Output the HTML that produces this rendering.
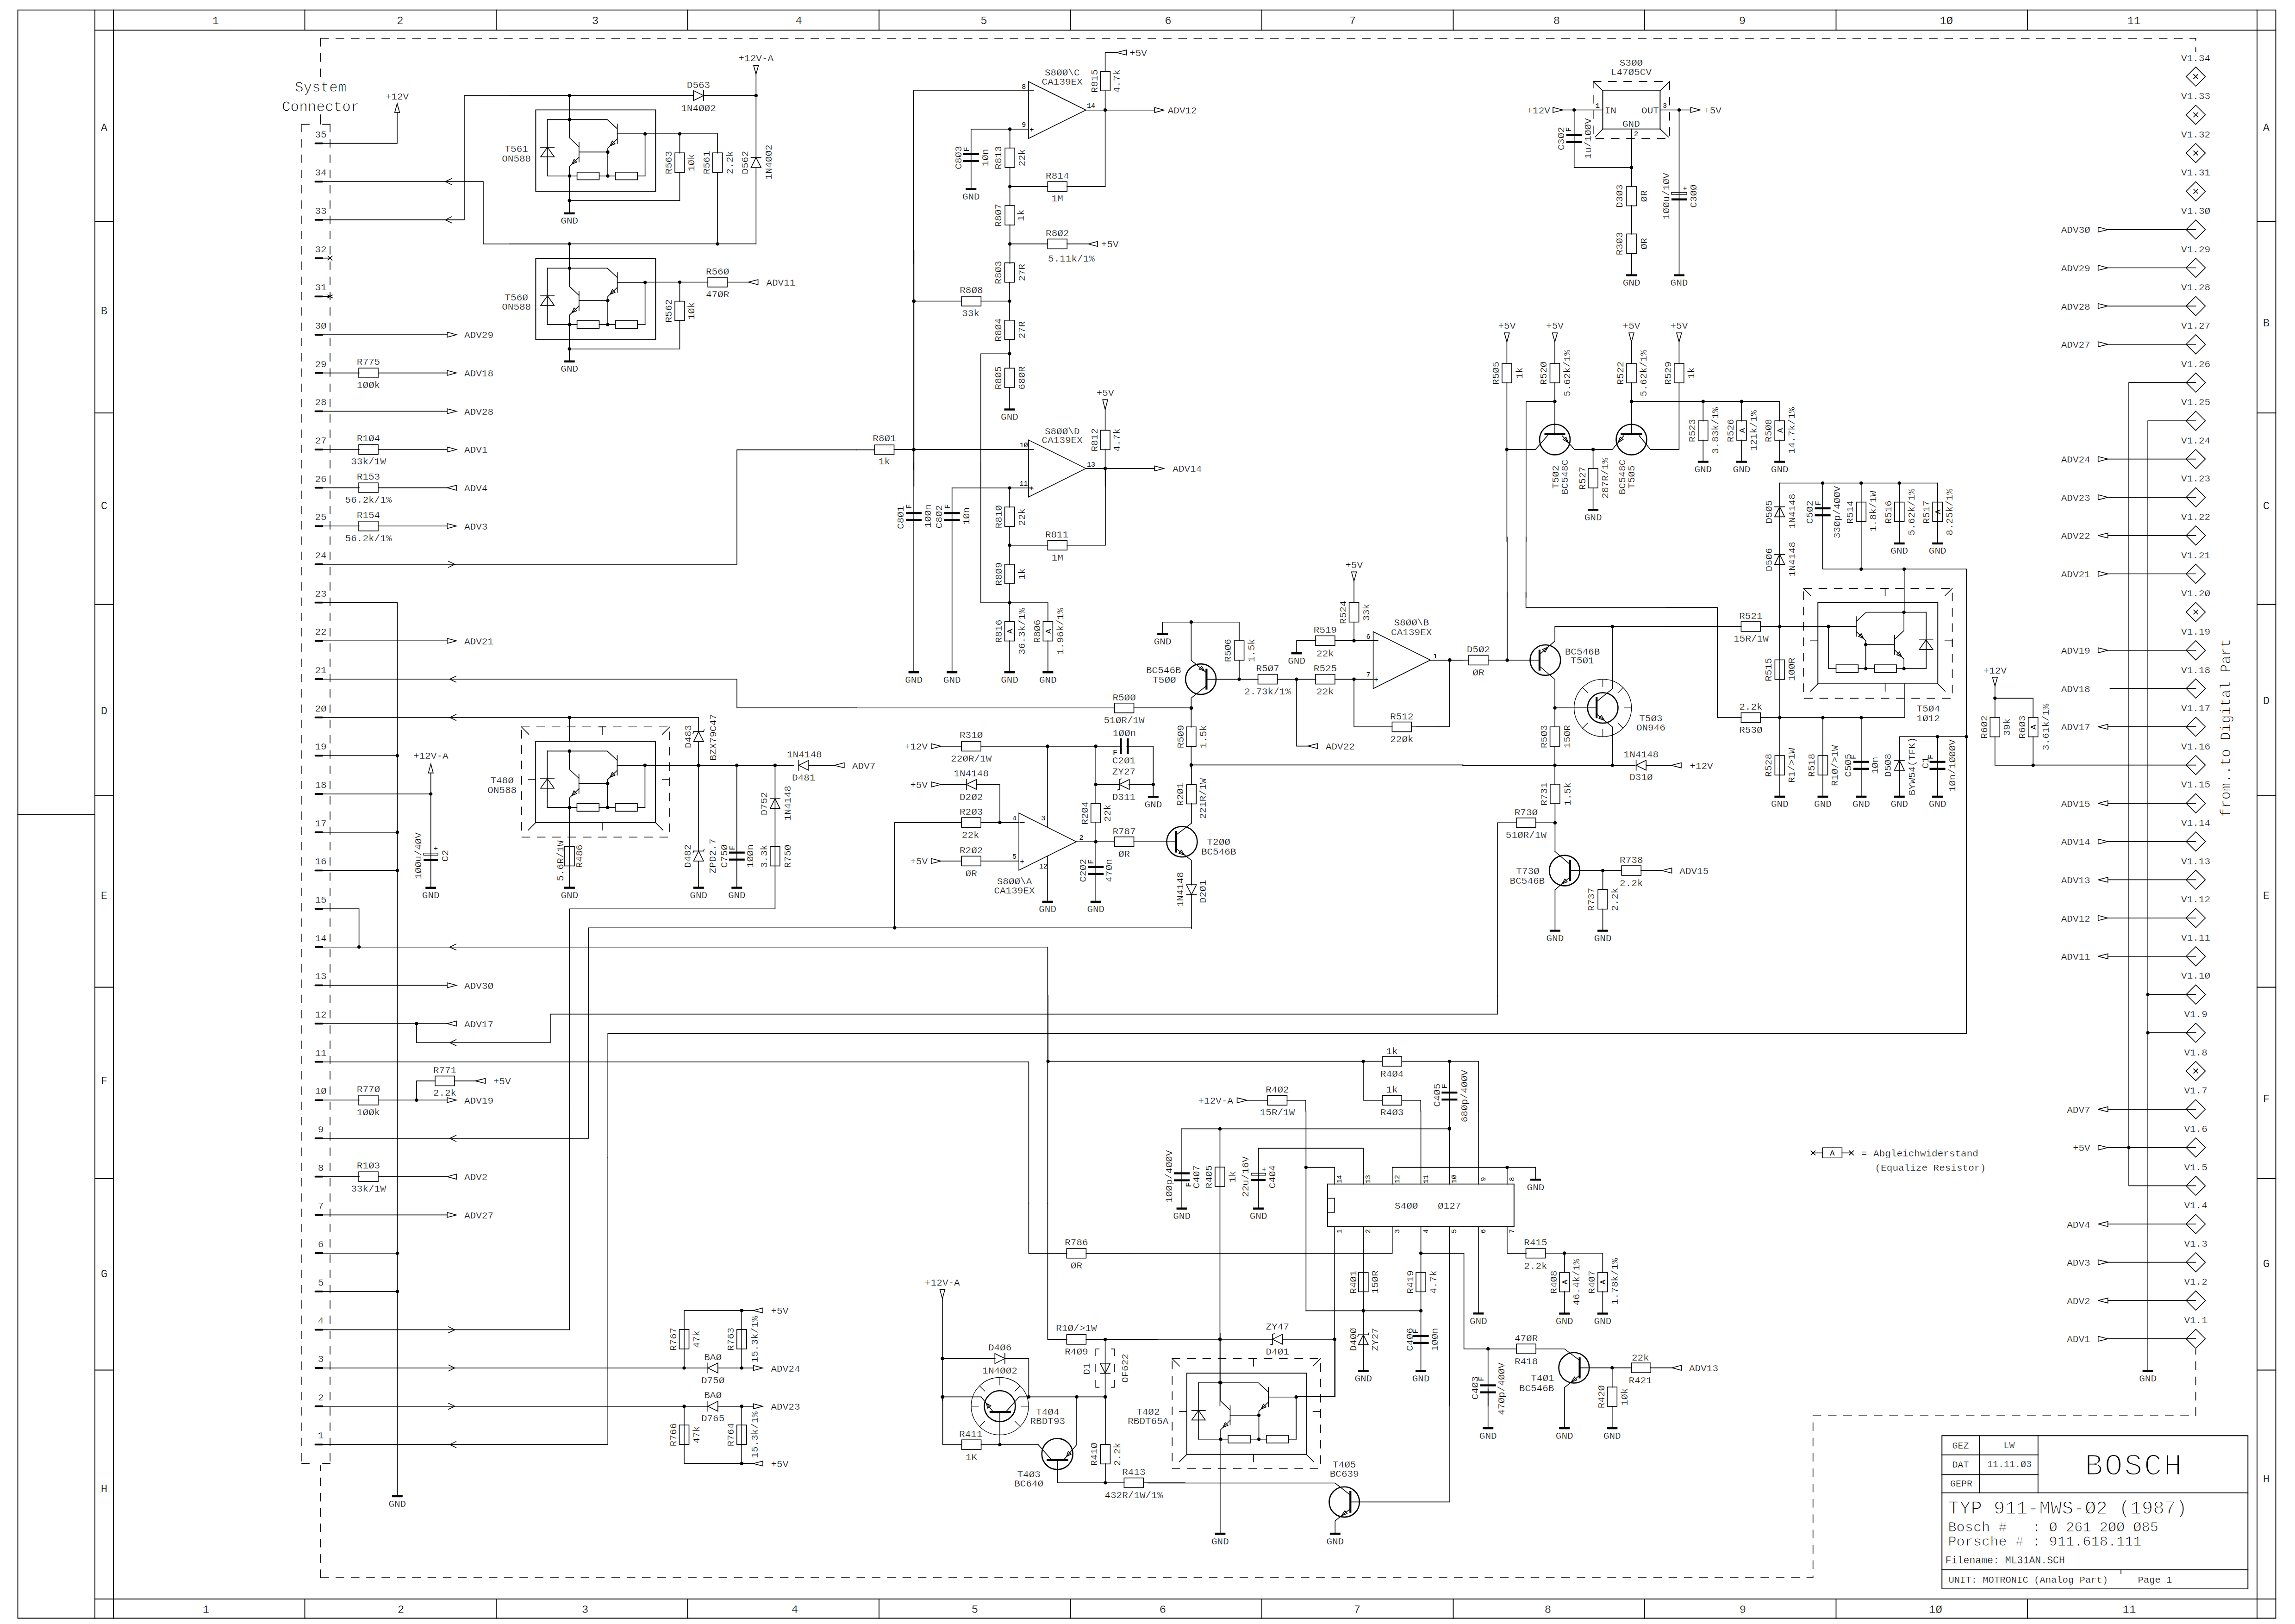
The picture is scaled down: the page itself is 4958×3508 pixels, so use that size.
<!DOCTYPE html>
<html><head><meta charset="utf-8"><style>
html,body{margin:0;padding:0;background:#fff;}
svg{display:block;}
text{fill:#000;stroke:#fff;stroke-width:0.4px;font-size:21px;font-family:"Liberation Mono",monospace;}
</style></head><body>
<svg width="4958" height="3508" viewBox="0 0 4958 3508">
<rect width="4958" height="3508" fill="#fff"/>
<g fill="none" stroke="#000" stroke-width="1.6" stroke-linecap="square" stroke-linejoin="miter">
<path d="M38.5 21.6 L4916.5 21.6 L4916.5 3495.5 L38.5 3495.5 L38.5 21.6" stroke-width="1.8"/>
<path d="M205 21.6 L205 3495.5" stroke-width="1.8"/>
<path d="M245 21.6 L245 3495.5" stroke-width="1.8"/>
<path d="M4876 21.6 L4876 3495.5" stroke-width="1.8"/>
<path d="M205 65 L4916.5 65" stroke-width="1.8"/>
<path d="M205 3454 L4916.5 3454" stroke-width="1.8"/>
<path d="M38.5 1760 L205 1760" stroke-width="1.8"/>
<path d="M658.5 21.6 L658.5 65" stroke-width="1.8"/>
<path d="M658.5 3454 L658.5 3495.5" stroke-width="1.8"/>
<path d="M1072 21.6 L1072 65" stroke-width="1.8"/>
<path d="M1072 3454 L1072 3495.5" stroke-width="1.8"/>
<path d="M1485.5 21.6 L1485.5 65" stroke-width="1.8"/>
<path d="M1485.5 3454 L1485.5 3495.5" stroke-width="1.8"/>
<path d="M1899 21.6 L1899 65" stroke-width="1.8"/>
<path d="M1899 3454 L1899 3495.5" stroke-width="1.8"/>
<path d="M2312.5 21.6 L2312.5 65" stroke-width="1.8"/>
<path d="M2312.5 3454 L2312.5 3495.5" stroke-width="1.8"/>
<path d="M2726 21.6 L2726 65" stroke-width="1.8"/>
<path d="M2726 3454 L2726 3495.5" stroke-width="1.8"/>
<path d="M3139.5 21.6 L3139.5 65" stroke-width="1.8"/>
<path d="M3139.5 3454 L3139.5 3495.5" stroke-width="1.8"/>
<path d="M3553 21.6 L3553 65" stroke-width="1.8"/>
<path d="M3553 3454 L3553 3495.5" stroke-width="1.8"/>
<path d="M3966.5 21.6 L3966.5 65" stroke-width="1.8"/>
<path d="M3966.5 3454 L3966.5 3495.5" stroke-width="1.8"/>
<path d="M4380 21.6 L4380 65" stroke-width="1.8"/>
<path d="M4380 3454 L4380 3495.5" stroke-width="1.8"/>
<path d="M205 478.5 L245 478.5" stroke-width="1.8"/>
<path d="M4876 478.5 L4916.5 478.5" stroke-width="1.8"/>
<path d="M205 892 L245 892" stroke-width="1.8"/>
<path d="M4876 892 L4916.5 892" stroke-width="1.8"/>
<path d="M205 1305.5 L245 1305.5" stroke-width="1.8"/>
<path d="M4876 1305.5 L4916.5 1305.5" stroke-width="1.8"/>
<path d="M205 1719 L245 1719" stroke-width="1.8"/>
<path d="M4876 1719 L4916.5 1719" stroke-width="1.8"/>
<path d="M205 2132.5 L245 2132.5" stroke-width="1.8"/>
<path d="M4876 2132.5 L4916.5 2132.5" stroke-width="1.8"/>
<path d="M205 2546 L245 2546" stroke-width="1.8"/>
<path d="M4876 2546 L4916.5 2546" stroke-width="1.8"/>
<path d="M205 2959.5 L245 2959.5" stroke-width="1.8"/>
<path d="M4876 2959.5 L4916.5 2959.5" stroke-width="1.8"/>
<text x="465.7" y="52" text-anchor="middle" style="font-size:24px;">1</text>
<text x="445" y="3483.5" text-anchor="middle" style="font-size:24px;">1</text>
<text x="864.5" y="52" text-anchor="middle" style="font-size:24px;">2</text>
<text x="866" y="3483.5" text-anchor="middle" style="font-size:24px;">2</text>
<text x="1286" y="52" text-anchor="middle" style="font-size:24px;">3</text>
<text x="1264" y="3483.5" text-anchor="middle" style="font-size:24px;">3</text>
<text x="1725.7" y="52" text-anchor="middle" style="font-size:24px;">4</text>
<text x="1717" y="3483.5" text-anchor="middle" style="font-size:24px;">4</text>
<text x="2125.5" y="52" text-anchor="middle" style="font-size:24px;">5</text>
<text x="2106" y="3483.5" text-anchor="middle" style="font-size:24px;">5</text>
<text x="2523.4" y="52" text-anchor="middle" style="font-size:24px;">6</text>
<text x="2512" y="3483.5" text-anchor="middle" style="font-size:24px;">6</text>
<text x="2922" y="52" text-anchor="middle" style="font-size:24px;">7</text>
<text x="2932" y="3483.5" text-anchor="middle" style="font-size:24px;">7</text>
<text x="3363" y="52" text-anchor="middle" style="font-size:24px;">8</text>
<text x="3344" y="3483.5" text-anchor="middle" style="font-size:24px;">8</text>
<text x="3764" y="52" text-anchor="middle" style="font-size:24px;">9</text>
<text x="3765" y="3483.5" text-anchor="middle" style="font-size:24px;">9</text>
<text x="4204.8" y="52" text-anchor="middle" style="font-size:24px;">1Ø</text>
<text x="4181.5" y="3483.5" text-anchor="middle" style="font-size:24px;">1Ø</text>
<text x="4610" y="52" text-anchor="middle" style="font-size:24px;">11</text>
<text x="4600" y="3483.5" text-anchor="middle" style="font-size:24px;">11</text>
<text x="225" y="282.5" text-anchor="middle" style="font-size:24px;">A</text>
<text x="4896" y="282.5" text-anchor="middle" style="font-size:24px;">A</text>
<text x="225" y="678.5" text-anchor="middle" style="font-size:24px;">B</text>
<text x="4896" y="704.5" text-anchor="middle" style="font-size:24px;">B</text>
<text x="225" y="1099.5" text-anchor="middle" style="font-size:24px;">C</text>
<text x="4896" y="1099.5" text-anchor="middle" style="font-size:24px;">C</text>
<text x="225" y="1542.5" text-anchor="middle" style="font-size:24px;">D</text>
<text x="4896" y="1520.5" text-anchor="middle" style="font-size:24px;">D</text>
<text x="225" y="1941.5" text-anchor="middle" style="font-size:24px;">E</text>
<text x="4896" y="1941.5" text-anchor="middle" style="font-size:24px;">E</text>
<text x="225" y="2341.5" text-anchor="middle" style="font-size:24px;">F</text>
<text x="4896" y="2380.5" text-anchor="middle" style="font-size:24px;">F</text>
<text x="225" y="2758.5" text-anchor="middle" style="font-size:24px;">G</text>
<text x="4896" y="2736.5" text-anchor="middle" style="font-size:24px;">G</text>
<text x="225" y="3222.5" text-anchor="middle" style="font-size:24px;">H</text>
<text x="4896" y="3201.5" text-anchor="middle" style="font-size:24px;">H</text>
<path d="M692.7 82.7 L692.7 165.5" stroke-dasharray="16.9 16.2"/>
<path d="M692.7 82.7 L4743.6 82.7 L4743.6 112" stroke-dasharray="16.9 16.2"/>
<path d="M692.7 3408 L692.7 3166" stroke-dasharray="16.9 16.2"/>
<path d="M692.7 3408 L3916.7 3408 L3916.7 3058.2" stroke-dasharray="16.9 16.2"/>
<path d="M692.7 248 L692.7 268"/>
<path d="M652 268.5 L668 268.5"/>
<path d="M697 268.5 L713 268.5"/>
<path d="M652 3161.4 L668 3161.4"/>
<path d="M697 3161.4 L713 3161.4"/>
<path d="M652 268.5 L652 3161.4" stroke-dasharray="16.5 16.5"/>
<path d="M713 268.5 L713 3161.4" stroke-dasharray="16.5 16.5"/>
<text x="692.7" y="198" text-anchor="middle" style="font-size:31px;stroke-width:1;">System</text>
<text x="692.7" y="239.5" text-anchor="middle" style="font-size:31px;stroke-width:1;">Connector</text>
<text x="693" y="296.6" text-anchor="middle">35</text>
<path d="M681.5 309.6 H696.5" stroke-width="3.8" stroke-linecap="round"/>
<text x="693" y="379.2" text-anchor="middle">34</text>
<path d="M681.5 392.3 H696.5" stroke-width="3.8" stroke-linecap="round"/>
<text x="693" y="461.9" text-anchor="middle">33</text>
<path d="M681.5 474.9 H696.5" stroke-width="3.8" stroke-linecap="round"/>
<text x="693" y="544.6" text-anchor="middle">32</text>
<path d="M681.5 557.6 H696.5" stroke-width="3.8" stroke-linecap="round"/>
<text x="693" y="627.2" text-anchor="middle">31</text>
<path d="M681.5 640.3 H696.5" stroke-width="3.8" stroke-linecap="round"/>
<text x="693" y="709.9" text-anchor="middle">3Ø</text>
<path d="M681.5 723 H696.5" stroke-width="3.8" stroke-linecap="round"/>
<text x="693" y="792.6" text-anchor="middle">29</text>
<path d="M681.5 805.6 H696.5" stroke-width="3.8" stroke-linecap="round"/>
<text x="693" y="875.2" text-anchor="middle">28</text>
<path d="M681.5 888.3 H696.5" stroke-width="3.8" stroke-linecap="round"/>
<text x="693" y="957.9" text-anchor="middle">27</text>
<path d="M681.5 971 H696.5" stroke-width="3.8" stroke-linecap="round"/>
<text x="693" y="1040.6" text-anchor="middle">26</text>
<path d="M681.5 1053.6 H696.5" stroke-width="3.8" stroke-linecap="round"/>
<text x="693" y="1123.3" text-anchor="middle">25</text>
<path d="M681.5 1136.3 H696.5" stroke-width="3.8" stroke-linecap="round"/>
<text x="693" y="1205.9" text-anchor="middle">24</text>
<path d="M681.5 1219 H696.5" stroke-width="3.8" stroke-linecap="round"/>
<text x="693" y="1288.6" text-anchor="middle">23</text>
<path d="M681.5 1301.6 H696.5" stroke-width="3.8" stroke-linecap="round"/>
<text x="693" y="1371.3" text-anchor="middle">22</text>
<path d="M681.5 1384.3 H696.5" stroke-width="3.8" stroke-linecap="round"/>
<text x="693" y="1453.9" text-anchor="middle">21</text>
<path d="M681.5 1467 H696.5" stroke-width="3.8" stroke-linecap="round"/>
<text x="693" y="1536.6" text-anchor="middle">2Ø</text>
<path d="M681.5 1549.7 H696.5" stroke-width="3.8" stroke-linecap="round"/>
<text x="693" y="1619.3" text-anchor="middle">19</text>
<path d="M681.5 1632.3 H696.5" stroke-width="3.8" stroke-linecap="round"/>
<text x="693" y="1701.9" text-anchor="middle">18</text>
<path d="M681.5 1715 H696.5" stroke-width="3.8" stroke-linecap="round"/>
<text x="693" y="1784.6" text-anchor="middle">17</text>
<path d="M681.5 1797.7 H696.5" stroke-width="3.8" stroke-linecap="round"/>
<text x="693" y="1867.3" text-anchor="middle">16</text>
<path d="M681.5 1880.3 H696.5" stroke-width="3.8" stroke-linecap="round"/>
<text x="693" y="1950" text-anchor="middle">15</text>
<path d="M681.5 1963 H696.5" stroke-width="3.8" stroke-linecap="round"/>
<text x="693" y="2032.6" text-anchor="middle">14</text>
<path d="M681.5 2045.7 H696.5" stroke-width="3.8" stroke-linecap="round"/>
<text x="693" y="2115.3" text-anchor="middle">13</text>
<path d="M681.5 2128.3 H696.5" stroke-width="3.8" stroke-linecap="round"/>
<text x="693" y="2198" text-anchor="middle">12</text>
<path d="M681.5 2211 H696.5" stroke-width="3.8" stroke-linecap="round"/>
<text x="693" y="2280.6" text-anchor="middle">11</text>
<path d="M681.5 2293.7 H696.5" stroke-width="3.8" stroke-linecap="round"/>
<text x="693" y="2363.3" text-anchor="middle">1Ø</text>
<path d="M681.5 2376.3 H696.5" stroke-width="3.8" stroke-linecap="round"/>
<text x="693" y="2446" text-anchor="middle">9</text>
<path d="M681.5 2459 H696.5" stroke-width="3.8" stroke-linecap="round"/>
<text x="693" y="2528.6" text-anchor="middle">8</text>
<path d="M681.5 2541.7 H696.5" stroke-width="3.8" stroke-linecap="round"/>
<text x="693" y="2611.3" text-anchor="middle">7</text>
<path d="M681.5 2624.4 H696.5" stroke-width="3.8" stroke-linecap="round"/>
<text x="693" y="2694" text-anchor="middle">6</text>
<path d="M681.5 2707 H696.5" stroke-width="3.8" stroke-linecap="round"/>
<text x="693" y="2776.7" text-anchor="middle">5</text>
<path d="M681.5 2789.7 H696.5" stroke-width="3.8" stroke-linecap="round"/>
<text x="693" y="2859.3" text-anchor="middle">4</text>
<path d="M681.5 2872.4 H696.5" stroke-width="3.8" stroke-linecap="round"/>
<text x="693" y="2942" text-anchor="middle">3</text>
<path d="M681.5 2955 H696.5" stroke-width="3.8" stroke-linecap="round"/>
<text x="693" y="3024.7" text-anchor="middle">2</text>
<path d="M681.5 3037.7 H696.5" stroke-width="3.8" stroke-linecap="round"/>
<text x="693" y="3107.3" text-anchor="middle">1</text>
<path d="M681.5 3120.4 H696.5" stroke-width="3.8" stroke-linecap="round"/>
<path d="M698 309.6 L858 309.6 L858 243"/>
<path d="M852.8 243 L858 223.5 L863.2 243Z"/>
<text x="858" y="214.5" text-anchor="middle">+12V</text>
<path d="M698 392.3 L1044 392.3 L1044 527 L1231 527"/>
<path d="M975.5 385.8 L962 392.3 L975.5 398.8"/>
<path d="M698 474.9 L1003 474.9 L1003 206.6 L1231 206.6"/>
<path d="M975.5 468.4 L962 474.9 L975.5 481.4"/>
<path d="M698 557.6 L713 557.6"/>
<path d="M708.5 553.1 L717.5 562.1 M708.5 562.1 L717.5 553.1"/>
<path d="M698 640.3 L713 640.3"/>
<path d="M708 637.3 L718 643.3 M708 643.3 L718 637.3 M713 635.3 L713 645.3"/>
<path d="M698 723 L966 723"/>
<path d="M966 717.6 L986 723 L966 728.4Z"/>
<text x="1003" y="730.4" text-anchor="start">ADV29</text>
<path d="M698 805.6 L776 805.6"/>
<rect x="775" y="795.1" width="42" height="21"/>
<path d="M817 805.6 L966 805.6"/>
<path d="M966 800.2 L986 805.6 L966 811Z"/>
<text x="1003" y="813.1" text-anchor="start">ADV18</text>
<text x="796" y="788.1" text-anchor="middle">R775</text>
<text x="796" y="838.1" text-anchor="middle">1ØØk</text>
<path d="M1157.4 237.4 L1416.4 237.4 L1416.4 413 L1157.4 413 L1157.4 237.4" stroke-width="1.9"/>
<path d="M1182.4 258.4 L1182.4 380.2"/>
<path d="M1182.4 258.4 L1312 258.4 L1333.6 278.4"/>
<path d="M1333.6 268 L1333.6 310.4"/>
<path d="M1333.6 289.1 L1393.6 289.1"/>
<path d="M1333.6 300 L1313 319.8 L1313 380.2"/>
<path d="M1318.2 314.9 L1322.8 304.5 L1328.6 310.6 Z"/>
<path d="M1230.5 258.4 L1230.5 298 L1250.9 317.2"/>
<path d="M1250.9 307.8 L1250.9 349.7"/>
<path d="M1250.9 328.4 L1313 328.4"/>
<path d="M1250.9 339.7 L1230.5 359.5 L1230.5 380.2"/>
<path d="M1235.6 354.6 L1240.2 344.2 L1246.1 350.3 Z"/>
<path d="M1168 318.1 L1197.4 318.1"/>
<path d="M1168 338.8 L1197.4 338.8 L1182.7 318.1Z"/>
<path d="M1182.4 380.2 L1246.6 380.2"/>
<path d="M1294.5 380.2 L1329.3 380.2"/>
<path d="M1377.2 380.2 L1393.6 380.2"/>
<path d="M1246.6 371.9 L1294.5 371.9 L1294.5 388.4 L1246.6 388.4 L1246.6 371.9"/>
<path d="M1329.3 371.9 L1377.2 371.9 L1377.2 388.4 L1329.3 388.4 L1329.3 371.9"/>
<path d="M1393.6 289.1 L1393.6 380.2"/>
<circle cx="1230.5" cy="258.4" r="3.6" fill="#000" stroke="none"/>
<circle cx="1230.5" cy="380.2" r="3.6" fill="#000" stroke="none"/>
<circle cx="1313" cy="328.4" r="3.6" fill="#000" stroke="none"/>
<circle cx="1313" cy="380.2" r="3.6" fill="#000" stroke="none"/>
<circle cx="1393.6" cy="289.1" r="3.6" fill="#000" stroke="none"/>
<path d="M1157.4 558.3 L1416.4 558.3 L1416.4 733.9 L1157.4 733.9 L1157.4 558.3" stroke-width="1.9"/>
<path d="M1182.4 579.3 L1182.4 701.1"/>
<path d="M1182.4 579.3 L1312 579.3 L1333.6 599.3"/>
<path d="M1333.6 588.9 L1333.6 631.3"/>
<path d="M1333.6 610 L1393.6 610"/>
<path d="M1333.6 620.9 L1313 640.7 L1313 701.1"/>
<path d="M1318.2 635.8 L1322.8 625.4 L1328.6 631.5 Z"/>
<path d="M1230.5 579.3 L1230.5 618.9 L1250.9 638.1"/>
<path d="M1250.9 628.7 L1250.9 670.6"/>
<path d="M1250.9 649.3 L1313 649.3"/>
<path d="M1250.9 660.6 L1230.5 680.4 L1230.5 701.1"/>
<path d="M1235.6 675.4 L1240.2 665.1 L1246.1 671.2 Z"/>
<path d="M1168 639 L1197.4 639"/>
<path d="M1168 659.7 L1197.4 659.7 L1182.7 639Z"/>
<path d="M1182.4 701.1 L1246.6 701.1"/>
<path d="M1294.5 701.1 L1329.3 701.1"/>
<path d="M1377.2 701.1 L1393.6 701.1"/>
<path d="M1246.6 692.8 L1294.5 692.8 L1294.5 709.3 L1246.6 709.3 L1246.6 692.8"/>
<path d="M1329.3 692.8 L1377.2 692.8 L1377.2 709.3 L1329.3 709.3 L1329.3 692.8"/>
<path d="M1393.6 610 L1393.6 701.1"/>
<circle cx="1230.5" cy="579.3" r="3.6" fill="#000" stroke="none"/>
<circle cx="1230.5" cy="701.1" r="3.6" fill="#000" stroke="none"/>
<circle cx="1313" cy="649.3" r="3.6" fill="#000" stroke="none"/>
<circle cx="1313" cy="701.1" r="3.6" fill="#000" stroke="none"/>
<circle cx="1393.6" cy="610" r="3.6" fill="#000" stroke="none"/>
<text x="1115.7" y="327.9" text-anchor="middle">T561</text>
<text x="1115.7" y="348.5" text-anchor="middle">ON588</text>
<text x="1115.7" y="648.5" text-anchor="middle">T56Ø</text>
<text x="1115.7" y="669" text-anchor="middle">ON588</text>
<path d="M1100 206.4 L1498.7 206.4"/>
<path d="M1519.8 206.4 L1633.3 206.4"/>
<path d="M1498.2 195.6 L1519.8 206.4 L1498.2 217.2Z"/>
<path d="M1519.8 195.6 L1519.8 217.2"/>
<text x="1509" y="189.5" text-anchor="middle">D563</text>
<text x="1509" y="239.8" text-anchor="middle">1N4ØØ2</text>
<circle cx="1230.2" cy="206.4" r="3.6" fill="#000" stroke="none"/>
<circle cx="1633.3" cy="206.4" r="3.6" fill="#000" stroke="none"/>
<path d="M1230.2 206.4 L1230.2 258.3"/>
<path d="M1633.3 159.9 L1633.3 340.4"/>
<path d="M1633.3 362 L1633.3 526.8"/>
<path d="M1628.1 141.6 L1633.3 160 L1638.5 141.6Z"/>
<text x="1633.3" y="131.7" text-anchor="middle">+12V-A</text>
<path d="M1622.5 362 L1633.3 340.4 L1644.1 362Z"/>
<path d="M1622.5 340.4 L1644.1 340.4"/>
<text x="1609" y="358.6" text-anchor="middle" transform="rotate(-90 1609 351.2)">D562</text>
<text x="1659.2" y="357.6" text-anchor="middle" transform="rotate(-90 1659.2 350.1)">1N4ØØ2</text>
<path d="M1100 526.8 L1633.3 526.8"/>
<circle cx="1230.2" cy="526.8" r="3.6" fill="#000" stroke="none"/>
<circle cx="1550.1" cy="526.8" r="3.6" fill="#000" stroke="none"/>
<path d="M1230.2 526.8 L1230.2 578.1"/>
<path d="M1393.6 289.1 L1550.1 289.1"/>
<circle cx="1468.5" cy="289.1" r="3.6" fill="#000" stroke="none"/>
<path d="M1550.1 289.1 L1550.1 330.7"/>
<rect x="1539.6" y="330.2" width="21" height="42"/>
<path d="M1550.1 371.7 L1550.1 526.8"/>
<text x="1525.8" y="358.6" text-anchor="middle" transform="rotate(-90 1525.8 351.2)">R561</text>
<text x="1575.5" y="358.6" text-anchor="middle" transform="rotate(-90 1575.5 351.2)">2.2k</text>
<path d="M1468.5 289.1 L1468.5 330.7"/>
<rect x="1458" y="330.2" width="21" height="42"/>
<path d="M1468.5 371.7 L1468.5 433.3 L1230.2 433.3"/>
<text x="1443.6" y="358.6" text-anchor="middle" transform="rotate(-90 1443.6 351.2)">R563</text>
<text x="1492.8" y="358.6" text-anchor="middle" transform="rotate(-90 1492.8 351.2)">1Øk</text>
<path d="M1230.2 379.8 L1230.2 460.9"/>
<circle cx="1230.2" cy="433.3" r="3.6" fill="#000" stroke="none"/>
<rect x="1218.7" y="458.7" width="23" height="4.4" fill="#000" stroke="none"/>
<text x="1230.2" y="483.3" text-anchor="middle">GND</text>
<path d="M1393.6 609.5 L1529.5 609.5"/>
<circle cx="1468.5" cy="609.5" r="3.6" fill="#000" stroke="none"/>
<rect x="1529.1" y="599" width="42" height="21"/>
<path d="M1571.1 609.5 L1616 609.5"/>
<path d="M1637.6 604.1 L1616.6 609.5 L1637.6 614.9Z"/>
<text x="1550.1" y="592.6" text-anchor="middle">R56Ø</text>
<text x="1550.1" y="642.3" text-anchor="middle">47ØR</text>
<text x="1655.4" y="616.9" text-anchor="start">ADV11</text>
<path d="M1468.5 609.5 L1468.5 651.1"/>
<rect x="1458" y="650.6" width="21" height="42"/>
<path d="M1468.5 692.1 L1468.5 753.7 L1230.2 753.7"/>
<text x="1443.6" y="679" text-anchor="middle" transform="rotate(-90 1443.6 671.6)">R562</text>
<text x="1492.8" y="679" text-anchor="middle" transform="rotate(-90 1492.8 671.6)">1Øk</text>
<path d="M1230.2 700.2 L1230.2 780.7"/>
<circle cx="1230.2" cy="753.7" r="3.6" fill="#000" stroke="none"/>
<rect x="1218.7" y="778.5" width="23" height="4.4" fill="#000" stroke="none"/>
<text x="1230.2" y="803.2" text-anchor="middle">GND</text>
<path d="M2221.8 176.2 L2345.9 237.7 L2221.8 299.3Z"/>
<path d="M1973.8 196 L2221.8 196"/>
<path d="M2224 196 L2232.8 196"/>
<text x="2211.8" y="191.6" text-anchor="middle" style="font-size:15px;stroke:none;">8</text>
<path d="M2097.8 278.9 L2221.8 278.9"/>
<circle cx="2181.7" cy="278.9" r="3.6" fill="#000" stroke="none"/>
<text x="2228.8" y="284.5" text-anchor="middle" style="font-size:16px;stroke:none;">+</text>
<text x="2211.8" y="274.1" text-anchor="middle" style="font-size:15px;stroke:none;">9</text>
<text x="2356.9" y="233.3" text-anchor="middle" style="font-size:15px;stroke:none;">14</text>
<path d="M2345.9 237.7 L2494.4 237.7"/>
<circle cx="2387.6" cy="237.7" r="3.6" fill="#000" stroke="none"/>
<path d="M2494.4 232.3 L2514.4 237.7 L2494.4 243.1Z"/>
<text x="2522.7" y="245.2" text-anchor="start">ADV12</text>
<rect x="2377.5" y="154.2" width="21" height="42"/>
<path d="M2387.6 196 L2387.6 402.9"/>
<path d="M2387.6 154.8 L2387.6 113.4 L2411.8 113.4"/>
<path d="M2433.2 108 L2412.2 113.4 L2433.2 118.8Z"/>
<text x="2440.1" y="120.8" text-anchor="start">+5V</text>
<text x="2363.2" y="182.7" text-anchor="middle" transform="rotate(-90 2363.2 175.2)">R815</text>
<text x="2411.8" y="182.7" text-anchor="middle" transform="rotate(-90 2411.8 175.2)">4.7k</text>
<path d="M2387.6 402.9 L2305.1 402.9"/>
<rect x="2263.3" y="392.4" width="42" height="21"/>
<path d="M2263.6 402.9 L2181.7 402.9"/>
<circle cx="2181.7" cy="402.9" r="3.6" fill="#000" stroke="none"/>
<text x="2284.3" y="386.2" text-anchor="middle">R814</text>
<text x="2284.3" y="434.8" text-anchor="middle">1M</text>
<text x="2294.7" y="163.2" text-anchor="middle">S8ØØ\C</text>
<text x="2294.7" y="182.7" text-anchor="middle">CA139EX</text>
<path d="M2181.7 278.9 L2181.7 320"/>
<rect x="2171.2" y="319.7" width="21" height="42"/>
<path d="M2181.7 361.4 L2181.7 444"/>
<rect x="2171.2" y="444.1" width="21" height="42"/>
<path d="M2181.7 485.5 L2181.7 569.9"/>
<text x="2155.9" y="348.2" text-anchor="middle" transform="rotate(-90 2155.9 340.7)">R813</text>
<text x="2206.2" y="348.2" text-anchor="middle" transform="rotate(-90 2206.2 340.7)">22k</text>
<text x="2155.9" y="472.5" text-anchor="middle" transform="rotate(-90 2155.9 465.1)">R8Ø7</text>
<text x="2204.6" y="472.5" text-anchor="middle" transform="rotate(-90 2204.6 465.1)">1k</text>
<circle cx="2181.7" cy="526.9" r="3.6" fill="#000" stroke="none"/>
<path d="M2181.7 526.9 L2263.6 526.9"/>
<rect x="2263.3" y="516.4" width="42" height="21"/>
<path d="M2305.1 526.9 L2350.6 526.9"/>
<path d="M2371 521.5 L2351 526.9 L2371 532.3Z"/>
<text x="2378.8" y="534.4" text-anchor="start">+5V</text>
<text x="2284.3" y="510.2" text-anchor="middle">R8Ø2</text>
<text x="2314.5" y="565.1" text-anchor="middle">5.11k/1%</text>
<path d="M2097.8 278.9 L2097.8 408.5"/>
<rect x="2080.8" y="330.7" width="34" height="4.3" fill="#000" stroke="none"/>
<rect x="2080.8" y="345.8" width="34" height="4.3" fill="#000" stroke="none"/>
<rect x="2086.3" y="406.3" width="23" height="4.4" fill="#000" stroke="none"/>
<text x="2097.8" y="431" text-anchor="middle">GND</text>
<text x="2069.6" y="347.9" text-anchor="middle" transform="rotate(-90 2069.6 340.4)">C8Ø3</text>
<text x="2087.5" y="328.2" text-anchor="middle" style="font-size:17px;stroke:none;" transform="rotate(-90 2087.5 322.2)">F</text>
<text x="2127.7" y="347.9" text-anchor="middle" transform="rotate(-90 2127.7 340.4)">1Øn</text>
<path d="M1973.8 196 L1973.8 569.9"/>
<rect x="2170.5" y="567.7" width="21" height="42"/>
<path d="M2181 609.7 L2181 691.7"/>
<circle cx="2181" cy="650.5" r="3.6" fill="#000" stroke="none"/>
<path d="M1974.4 650.5 L2077.4 650.5"/>
<rect x="2077.4" y="640" width="42" height="21"/>
<path d="M2119.2 650.5 L2181 650.5"/>
<circle cx="1974.4" cy="650.5" r="3.6" fill="#000" stroke="none"/>
<text x="2098.4" y="632.9" text-anchor="middle">R8Ø8</text>
<text x="2097.2" y="683.1" text-anchor="middle">33k</text>
<rect x="2170.5" y="691.7" width="21" height="42"/>
<path d="M2181 733.7 L2181 795.3"/>
<circle cx="2181" cy="764.2" r="3.6" fill="#000" stroke="none"/>
<path d="M2181 764.2 L2118.9 764.2 L2118.9 1049.9"/>
<rect x="2170.5" y="795.3" width="21" height="42"/>
<path d="M2181 836.7 L2181 884.5"/>
<rect x="2169.5" y="882.3" width="23" height="4.4" fill="#000" stroke="none"/>
<text x="2181" y="906.9" text-anchor="middle">GND</text>
<text x="2155.9" y="596.1" text-anchor="middle" transform="rotate(-90 2155.9 588.7)">R8Ø3</text>
<text x="2206.2" y="596.1" text-anchor="middle" transform="rotate(-90 2206.2 588.7)">27R</text>
<text x="2155.9" y="720.2" text-anchor="middle" transform="rotate(-90 2155.9 712.7)">R8Ø4</text>
<text x="2206.2" y="720.2" text-anchor="middle" transform="rotate(-90 2206.2 712.7)">27R</text>
<text x="2155.9" y="823.8" text-anchor="middle" transform="rotate(-90 2155.9 816.3)">R8Ø5</text>
<text x="2206.2" y="823.8" text-anchor="middle" transform="rotate(-90 2206.2 816.3)">68ØR</text>
<path d="M1974.4 540 L1974.4 1049.9"/>
<circle cx="1974.4" cy="971.1" r="3.6" fill="#000" stroke="none"/>
<path d="M2221.8 950.4 L2345.9 1011.9 L2221.8 1073.8Z"/>
<path d="M1933.3 971.1 L2221.8 971.1"/>
<path d="M2224 971.1 L2232.8 971.1"/>
<text x="2211.8" y="966.1" text-anchor="middle" style="font-size:15px;stroke:none;">1Ø</text>
<text x="2356.9" y="1007.5" text-anchor="middle" style="font-size:15px;stroke:none;">13</text>
<path d="M2345.9 1011.9 L2494.4 1011.9"/>
<circle cx="2387.6" cy="1011.9" r="3.6" fill="#000" stroke="none"/>
<path d="M2494.4 1006.5 L2514.4 1011.9 L2494.4 1017.3Z"/>
<text x="2533.3" y="1019.4" text-anchor="start">ADV14</text>
<rect x="2377.1" y="929.4" width="21" height="42"/>
<path d="M2387.6 971.1 L2387.6 1049.9"/>
<path d="M2387.6 884.5 L2387.6 929.4"/>
<path d="M2382.2 863.4 L2387.6 884.4 L2393 863.4Z"/>
<text x="2387.6" y="855.2" text-anchor="middle">+5V</text>
<text x="2294.7" y="937.8" text-anchor="middle">S8ØØ\D</text>
<text x="2294.7" y="957.2" text-anchor="middle">CA139EX</text>
<text x="2363.2" y="957.9" text-anchor="middle" transform="rotate(-90 2363.2 950.4)">R812</text>
<text x="2411.8" y="957.9" text-anchor="middle" transform="rotate(-90 2411.8 950.4)">4.7k</text>
<path d="M698 888.3 L966 888.3"/>
<path d="M966 882.9 L986 888.3 L966 893.7Z"/>
<text x="1003" y="895.7" text-anchor="start">ADV28</text>
<path d="M698 971 L776 971"/>
<rect x="775" y="960.5" width="42" height="21"/>
<text x="796" y="953.4" text-anchor="middle">R1Ø4</text>
<text x="796" y="1003.4" text-anchor="middle">33k/1W</text>
<path d="M817 971 L966 971"/>
<path d="M966 965.6 L986 971 L966 976.4Z"/>
<text x="1003" y="978.4" text-anchor="start">ADV1</text>
<path d="M698 1053.6 L776 1053.6"/>
<rect x="775" y="1043.1" width="42" height="21"/>
<text x="796" y="1036.1" text-anchor="middle">R153</text>
<text x="796" y="1086.1" text-anchor="middle">56.2k/1%</text>
<path d="M817 1053.6 L966 1053.6"/>
<path d="M986 1048.2 L966 1053.6 L986 1059Z"/>
<text x="1003" y="1061.1" text-anchor="start">ADV4</text>
<path d="M698 1136.3 L776 1136.3"/>
<rect x="775" y="1125.8" width="42" height="21"/>
<text x="796" y="1118.8" text-anchor="middle">R154</text>
<text x="796" y="1168.8" text-anchor="middle">56.2k/1%</text>
<path d="M817 1136.3 L966 1136.3"/>
<path d="M966 1130.9 L986 1136.3 L966 1141.7Z"/>
<text x="1003" y="1143.8" text-anchor="start">ADV3</text>
<path d="M698 1219 L1592 1219 L1592 971.6 L1850 971.6"/>
<path d="M969 1212.5 L982.5 1219 L969 1225.5"/>
<path d="M698 1301.6 L858.3 1301.6 L858.3 3232"/>
<rect x="846.8" y="3229.8" width="23" height="4.4" fill="#000" stroke="none"/>
<text x="858.3" y="3254.5" text-anchor="middle">GND</text>
<path d="M698 1384.3 L966 1384.3"/>
<path d="M966 1378.9 L986 1384.3 L966 1389.7Z"/>
<text x="1003" y="1391.8" text-anchor="start">ADV21</text>
<path d="M698 1467 L1592 1467 L1592 1529 L1850 1529"/>
<path d="M985.2 1460.5 L971.7 1467 L985.2 1473.5"/>
<path d="M698 1549.7 L1509.2 1549.7 L1509.2 1580.5"/>
<path d="M985.2 1543.2 L971.7 1549.7 L985.2 1556.2"/>
<circle cx="1230.4" cy="1549.7" r="3.6" fill="#000" stroke="none"/>
<path d="M698 1632.3 L858.3 1632.3"/>
<circle cx="858.3" cy="1632.3" r="3.6" fill="#000" stroke="none"/>
<path d="M698 1715 L930.7 1715 L930.7 1669.6"/>
<circle cx="930.7" cy="1715" r="3.6" fill="#000" stroke="none"/>
<path d="M925.5 1669.6 L930.7 1650.1 L935.9 1669.6Z"/>
<text x="930.7" y="1639" text-anchor="middle">+12V-A</text>
<path d="M1157.2 1601.4 L1416.2 1601.4 L1416.2 1777 L1157.2 1777 L1157.2 1601.4" stroke-width="1.9"/>
<path d="M1182.2 1622.4 L1182.2 1744.2"/>
<path d="M1182.2 1622.4 L1311.8 1622.4 L1333.4 1642.4"/>
<path d="M1333.4 1632 L1333.4 1674.4"/>
<path d="M1333.4 1653.1 L1393.4 1653.1"/>
<path d="M1333.4 1664 L1312.8 1683.8 L1312.8 1744.2"/>
<path d="M1318 1678.9 L1322.6 1668.5 L1328.4 1674.6 Z"/>
<path d="M1230.3 1622.4 L1230.3 1662 L1250.7 1681.2"/>
<path d="M1250.7 1671.8 L1250.7 1713.7"/>
<path d="M1250.7 1692.4 L1312.8 1692.4"/>
<path d="M1250.7 1703.7 L1230.3 1723.5 L1230.3 1744.2"/>
<path d="M1235.4 1718.5 L1240 1708.2 L1245.9 1714.3 Z"/>
<path d="M1167.8 1682.1 L1197.2 1682.1"/>
<path d="M1167.8 1702.8 L1197.2 1702.8 L1182.5 1682.1Z"/>
<path d="M1182.2 1744.2 L1246.4 1744.2"/>
<path d="M1294.3 1744.2 L1329.1 1744.2"/>
<path d="M1377 1744.2 L1393.4 1744.2"/>
<path d="M1246.4 1735.9 L1294.3 1735.9 L1294.3 1752.4 L1246.4 1752.4 L1246.4 1735.9"/>
<path d="M1329.1 1735.9 L1377 1735.9 L1377 1752.4 L1329.1 1752.4 L1329.1 1735.9"/>
<path d="M1393.4 1653.1 L1393.4 1744.2"/>
<circle cx="1230.3" cy="1622.4" r="3.6" fill="#000" stroke="none"/>
<circle cx="1230.3" cy="1744.2" r="3.6" fill="#000" stroke="none"/>
<circle cx="1312.8" cy="1692.4" r="3.6" fill="#000" stroke="none"/>
<circle cx="1312.8" cy="1744.2" r="3.6" fill="#000" stroke="none"/>
<circle cx="1393.4" cy="1653.1" r="3.6" fill="#000" stroke="none"/>
<path d="M1126.5 1570.3 L1446.8 1570.3 L1446.8 1808.3 L1126.5 1808.3 L1126.5 1570.3" stroke-dasharray="16.9 16.2"/>
<path d="M1126.5 1570.3 L1142.5 1586.3"/>
<path d="M1446.8 1570.3 L1430.8 1586.3"/>
<path d="M1157.2 1777 L1141.2 1793"/>
<path d="M1416.2 1777 L1432.2 1793"/>
<path d="M1295.1 1570.3 L1309.1 1570.3"/>
<path d="M1302.1 1570.3 L1302.1 1586.3"/>
<path d="M1302.1 1777 L1302.1 1793"/>
<path d="M1141.2 1684.2 L1157.2 1684.2"/>
<path d="M1430.8 1684.2 L1446.8 1684.2"/>
<path d="M1446.8 1682.2 L1446.8 1697.2"/>
<text x="1084.6" y="1692.3" text-anchor="middle">T48Ø</text>
<text x="1084.6" y="1712.8" text-anchor="middle">ON588</text>
<path d="M1230.4 1549.6 L1230.4 1601.4"/>
<path d="M1498.4 1601.9 L1509.2 1580.3 L1520 1601.9Z"/>
<path d="M1498.4 1580.3 L1520 1580.3"/>
<path d="M1498.4 1580.3 L1497.2 1584.3 M1520 1580.3 L1521.2 1576.3"/>
<path d="M1509.2 1601.4 L1509.2 1838.5"/>
<path d="M1509.2 1860.2 L1509.2 1917.6"/>
<path d="M1498.4 1860 L1509.2 1838.4 L1520 1860Z"/>
<path d="M1498.4 1838.4 L1520 1838.4"/>
<path d="M1498.4 1838.4 L1497.2 1842.4 M1520 1838.4 L1521.2 1834.4"/>
<path d="M1394 1653.2 L1714.3 1653.2"/>
<path d="M1747.2 1653.2 L1800.6 1653.2"/>
<path d="M1393.6 1653.2 L1394 1653.2"/>
<path d="M1747.1 1642.4 L1725.5 1653.2 L1747.1 1664Z"/>
<path d="M1725.5 1642.4 L1725.5 1664"/>
<path d="M1795 1653.2 L1802 1653.2"/>
<path d="M1823.8 1647.8 L1802.2 1653.2 L1823.8 1658.6Z"/>
<text x="1841" y="1660.7" text-anchor="start">ADV7</text>
<circle cx="1509.2" cy="1653.2" r="3.6" fill="#000" stroke="none"/>
<circle cx="1591.8" cy="1653.2" r="3.6" fill="#000" stroke="none"/>
<circle cx="1674.4" cy="1653.2" r="3.6" fill="#000" stroke="none"/>
<path d="M1591.8 1653.2 L1591.8 1917.6"/>
<rect x="1574.8" y="1839.5" width="34" height="4.3" fill="#000" stroke="none"/>
<rect x="1574.8" y="1854.6" width="34" height="4.3" fill="#000" stroke="none"/>
<path d="M1674.4 1653.2 L1674.4 1963.2"/>
<path d="M1663.6 1746.9 L1674.4 1725.3 L1685.2 1746.9Z"/>
<path d="M1663.6 1725.3 L1685.2 1725.3"/>
<rect x="1663.9" y="1828.5" width="21" height="42"/>
<path d="M1674.4 1963.2 L1230.4 1963.2 L1230.4 2009.9"/>
<path d="M1230.4 1744 L1230.4 1917.6"/>
<rect x="1219.9" y="1828.5" width="21" height="42"/>
<rect x="1218.9" y="1915.4" width="23" height="4.4" fill="#000" stroke="none"/>
<text x="1230.4" y="1940.1" text-anchor="middle">GND</text>
<rect x="1497.7" y="1915.4" width="23" height="4.4" fill="#000" stroke="none"/>
<text x="1509.2" y="1940.1" text-anchor="middle">GND</text>
<rect x="1580.3" y="1915.4" width="23" height="4.4" fill="#000" stroke="none"/>
<text x="1591.8" y="1940.1" text-anchor="middle">GND</text>
<text x="1485.1" y="1598.5" text-anchor="middle" transform="rotate(-90 1485.1 1591.1)">D483</text>
<text x="1539.1" y="1600.1" text-anchor="middle" transform="rotate(-90 1539.1 1592.6)">BZX79C47</text>
<text x="1737.8" y="1636.2" text-anchor="middle">1N4148</text>
<text x="1736.3" y="1685.8" text-anchor="middle">D481</text>
<text x="1649.9" y="1743.6" text-anchor="middle" transform="rotate(-90 1649.9 1736.1)">D752</text>
<text x="1700.2" y="1742.3" text-anchor="middle" transform="rotate(-90 1700.2 1734.9)">1N4148</text>
<text x="1485.1" y="1856.6" text-anchor="middle" transform="rotate(-90 1485.1 1849.2)">D482</text>
<text x="1539.1" y="1856.6" text-anchor="middle" transform="rotate(-90 1539.1 1849.2)">ZPD2.7</text>
<text x="1563.6" y="1856.6" text-anchor="middle" transform="rotate(-90 1563.6 1849.2)">C75Ø</text>
<text x="1581.5" y="1837.3" text-anchor="middle" style="font-size:17px;stroke:none;" transform="rotate(-90 1581.5 1831.3)">F</text>
<text x="1620.1" y="1856.6" text-anchor="middle" transform="rotate(-90 1620.1 1849.2)">1ØØn</text>
<text x="1649.9" y="1856.9" text-anchor="middle" transform="rotate(-90 1649.9 1849.5)">3.3k</text>
<text x="1700.2" y="1856.9" text-anchor="middle" transform="rotate(-90 1700.2 1849.5)">R75Ø</text>
<text x="1209.7" y="1867" text-anchor="middle" transform="rotate(-90 1209.7 1859.5)">5.6R/1W</text>
<text x="1251.1" y="1856.9" text-anchor="middle" transform="rotate(-90 1251.1 1849.5)">R486</text>
<path d="M2221.6 1054 L2230.3 1054"/>
<text x="2228.8" y="1059.7" text-anchor="middle" style="font-size:16px;stroke:none;">+</text>
<text x="2211.5" y="1049.3" text-anchor="middle" style="font-size:15px;stroke:none;">11</text>
<path d="M2056.7 1054 L2221.6 1054"/>
<circle cx="2181.1" cy="1054" r="3.6" fill="#000" stroke="none"/>
<path d="M1974.1 1000 L1974.1 1452.2"/>
<rect x="1957.1" y="1106.2" width="34" height="4.3" fill="#000" stroke="none"/>
<rect x="1957.1" y="1121.3" width="34" height="4.3" fill="#000" stroke="none"/>
<rect x="1962.6" y="1450" width="23" height="4.4" fill="#000" stroke="none"/>
<text x="1974.1" y="1474.6" text-anchor="middle">GND</text>
<path d="M2056.7 1054 L2056.7 1452.2"/>
<rect x="2039.7" y="1106.2" width="34" height="4.3" fill="#000" stroke="none"/>
<rect x="2039.7" y="1121.3" width="34" height="4.3" fill="#000" stroke="none"/>
<rect x="2045.2" y="1450" width="23" height="4.4" fill="#000" stroke="none"/>
<text x="2056.7" y="1474.6" text-anchor="middle">GND</text>
<path d="M2181.1 1054 L2181.1 1095.8"/>
<rect x="2170.6" y="1095.2" width="21" height="42"/>
<path d="M2181.1 1136.6 L2181.1 1219.2"/>
<rect x="2170.6" y="1218.9" width="21" height="42"/>
<path d="M2181.1 1260.6 L2181.1 1343.2"/>
<circle cx="2181.1" cy="1177.7" r="3.6" fill="#000" stroke="none"/>
<path d="M2181.1 1177.7 L2263.3 1177.7"/>
<rect x="2263.4" y="1167.2" width="42" height="21"/>
<path d="M2305.1 1177.7 L2388 1177.7 L2388 1012.6"/>
<circle cx="2181.1" cy="1302.1" r="3.6" fill="#000" stroke="none"/>
<path d="M2118.9 1000 L2118.9 1302.1 L2263.9 1302.1 L2263.9 1343.2"/>
<rect x="2170.6" y="1342.6" width="21" height="42"/>
<text x="2181.1" y="1369.6" text-anchor="middle" style="font-size:17px;stroke:none;" transform="rotate(-90 2181.1 1363.6)">A</text>
<rect x="2253.4" y="1342.6" width="21" height="42"/>
<text x="2263.9" y="1369.6" text-anchor="middle" style="font-size:17px;stroke:none;" transform="rotate(-90 2263.9 1363.6)">A</text>
<path d="M2181.1 1384 L2181.1 1452.2"/>
<path d="M2263.9 1384 L2263.9 1452.2"/>
<rect x="2169.6" y="1450" width="23" height="4.4" fill="#000" stroke="none"/>
<text x="2181.1" y="1474.6" text-anchor="middle">GND</text>
<rect x="2252.4" y="1450" width="23" height="4.4" fill="#000" stroke="none"/>
<text x="2263.9" y="1474.6" text-anchor="middle">GND</text>
<text x="1944.6" y="1125.2" text-anchor="middle" transform="rotate(-90 1944.6 1117.8)">C8Ø1</text>
<text x="1963.5" y="1100.2" text-anchor="middle" style="font-size:17px;stroke:none;" transform="rotate(-90 1963.5 1094.2)">F</text>
<text x="2003.3" y="1122.1" text-anchor="middle" transform="rotate(-90 2003.3 1114.6)">1ØØn</text>
<text x="2027.8" y="1123.6" text-anchor="middle" transform="rotate(-90 2027.8 1116.2)">C8Ø2</text>
<text x="2046" y="1100.2" text-anchor="middle" style="font-size:17px;stroke:none;" transform="rotate(-90 2046 1094.2)">F</text>
<text x="2086.9" y="1122.1" text-anchor="middle" transform="rotate(-90 2086.9 1114.6)">1Øn</text>
<text x="2156.6" y="1123.6" text-anchor="middle" transform="rotate(-90 2156.6 1116.2)">R81Ø</text>
<text x="2206.2" y="1124.3" text-anchor="middle" transform="rotate(-90 2206.2 1116.8)">22k</text>
<text x="2283.1" y="1161.3" text-anchor="middle">R811</text>
<text x="2284.4" y="1210.9" text-anchor="middle">1M</text>
<text x="2156.6" y="1247.4" text-anchor="middle" transform="rotate(-90 2156.6 1239.9)">R8Ø9</text>
<text x="2206.2" y="1247.4" text-anchor="middle" transform="rotate(-90 2206.2 1239.9)">1k</text>
<text x="2156.6" y="1371.1" text-anchor="middle" transform="rotate(-90 2156.6 1363.6)">R816</text>
<text x="2206.2" y="1371.1" text-anchor="middle" transform="rotate(-90 2206.2 1363.6)">36.3k/1%</text>
<text x="2239.1" y="1371.1" text-anchor="middle" transform="rotate(-90 2239.1 1363.6)">R8Ø6</text>
<text x="2289.1" y="1371.1" text-anchor="middle" transform="rotate(-90 2289.1 1363.6)">1.96k/1%</text>
<path d="M1974 196 L1974 1015"/>
<circle cx="1974" cy="650.5" r="3.6" fill="#000" stroke="none"/>
<circle cx="1974" cy="971.3" r="3.6" fill="#000" stroke="none"/>
<path d="M1850 971.6 L1889.5 971.6"/>
<rect x="1889.5" y="961.1" width="42" height="21"/>
<path d="M1931.5 971.3 L2222 971.3"/>
<text x="1910.5" y="953" text-anchor="middle">R8Ø1</text>
<text x="1910.5" y="1002.7" text-anchor="middle">1k</text>
<circle cx="2594.2" cy="1467.1" r="33" stroke-width="2.6"/>
<path d="M2606.4 1446.7 L2606.4 1487.5" stroke-width="4.2"/>
<path d="M2606.4 1467.1 L2677.1 1467.1"/>
<circle cx="2677.1" cy="1467.1" r="3.6" fill="#000" stroke="none"/>
<path d="M2573.4 1343.7 L2573.4 1426.3 L2606.4 1453"/>
<path d="M2601.5 1449 L2590.7 1445.7 L2596 1439.1 Z"/>
<path d="M2606.4 1481.3 L2573.4 1508 L2573.4 1570.8"/>
<circle cx="2573.4" cy="1343.7" r="3.6" fill="#000" stroke="none"/>
<circle cx="2573.4" cy="1529.3" r="3.6" fill="#000" stroke="none"/>
<rect x="2562.9" y="1570.2" width="21" height="42"/>
<path d="M2573.4 1611.6 L2573.4 1659.9"/>
<circle cx="2573.4" cy="1652.4" r="3.6" fill="#000" stroke="none"/>
<path d="M2573.4 1652.4 L3160.6 1652.4"/>
<path d="M2450 1529.3 L2573.4 1529.3"/>
<rect x="2500.1" y="1367.6" width="23" height="4.4" fill="#000" stroke="none"/>
<text x="2511.6" y="1392.3" text-anchor="middle">GND</text>
<path d="M2511.6 1369.8 L2511.6 1343.7 L2677.1 1343.7 L2677.1 1383.9"/>
<rect x="2666.6" y="1384" width="21" height="42"/>
<path d="M2677.1 1426.3 L2677.1 1467.1"/>
<path d="M2677.1 1467.1 L2717.9 1467.1"/>
<rect x="2717.6" y="1456.6" width="42" height="21"/>
<path d="M2759.7 1467.1 L2842.5 1467.1"/>
<circle cx="2801.1" cy="1467.1" r="3.6" fill="#000" stroke="none"/>
<rect x="2842" y="1456.6" width="42" height="21"/>
<path d="M2883.7 1467.1 L2966.6 1467.1"/>
<circle cx="2925.1" cy="1467.1" r="3.6" fill="#000" stroke="none"/>
<path d="M2801.1 1467.1 L2801.1 1611.6 L2825.6 1611.6"/>
<path d="M2846.6 1606.2 L2825.6 1611.6 L2846.6 1617Z"/>
<rect x="2789.6" y="1409" width="23" height="4.4" fill="#000" stroke="none"/>
<text x="2801.1" y="1433.7" text-anchor="middle">GND</text>
<path d="M2801.1 1411.2 L2801.1 1383.9 L2842.5 1383.9"/>
<rect x="2842" y="1373.4" width="42" height="21"/>
<path d="M2883.7 1383.9 L2976.9 1383.9"/>
<circle cx="2925.1" cy="1383.9" r="3.6" fill="#000" stroke="none"/>
<path d="M2925.1 1343.7 L2925.1 1383.9"/>
<rect x="2914.6" y="1301.7" width="21" height="42"/>
<path d="M2925.1 1255.2 L2925.1 1301.7"/>
<path d="M2919.7 1235.4 L2925.1 1255.4 L2930.5 1235.4Z"/>
<path d="M2966.6 1364.5 L3090 1425.7 L2966.6 1487.5Z"/>
<path d="M3090 1425.7 L3160.6 1425.7"/>
<circle cx="3131.7" cy="1425.7" r="3.6" fill="#000" stroke="none"/>
<path d="M2925.1 1467.1 L2925.1 1570.1 L3007.7 1570.1"/>
<rect x="3007.4" y="1559.6" width="42" height="21"/>
<path d="M3049.2 1570.1 L3131.7 1570.1 L3131.7 1425.7"/>
<text x="2972.9" y="1472.8" text-anchor="middle" style="font-size:16px;stroke:none;">+</text>
<text x="3100.3" y="1421.6" text-anchor="middle" style="font-size:15px;stroke:none;">1</text>
<text x="2955.9" y="1379.8" text-anchor="middle" style="font-size:15px;stroke:none;">6</text>
<text x="2955.9" y="1462.4" text-anchor="middle" style="font-size:15px;stroke:none;">7</text>
<text x="2513.8" y="1454.2" text-anchor="middle">BC546B</text>
<text x="2515.4" y="1474.6" text-anchor="middle">T5ØØ</text>
<text x="2651.9" y="1412.4" text-anchor="middle" transform="rotate(-90 2651.9 1405)">R5Ø6</text>
<text x="2702.2" y="1412.4" text-anchor="middle" transform="rotate(-90 2702.2 1405)">1.5k</text>
<text x="2738.6" y="1449.5" text-anchor="middle">R5Ø7</text>
<text x="2738.6" y="1499.7" text-anchor="middle">2.73k/1%</text>
<text x="2863" y="1449.5" text-anchor="middle">R525</text>
<text x="2863" y="1499.7" text-anchor="middle">22k</text>
<text x="2863" y="1367.2" text-anchor="middle">R519</text>
<text x="2863" y="1418.1" text-anchor="middle">22k</text>
<text x="2901" y="1330.2" text-anchor="middle" transform="rotate(-90 2901 1322.7)">R524</text>
<text x="2950.2" y="1330.2" text-anchor="middle" transform="rotate(-90 2950.2 1322.7)">33k</text>
<text x="2925.1" y="1227.2" text-anchor="middle">+5V</text>
<text x="3049.2" y="1350.6" text-anchor="middle">S8ØØ\B</text>
<text x="3049.2" y="1371.9" text-anchor="middle">CA139EX</text>
<text x="3028.4" y="1553.7" text-anchor="middle">R512</text>
<text x="3028.4" y="1602.7" text-anchor="middle">22Øk</text>
<text x="2863.9" y="1619" text-anchor="start">ADV22</text>
<text x="2549.3" y="1598.6" text-anchor="middle" transform="rotate(-90 2549.3 1591.2)">R5Ø9</text>
<text x="2598.6" y="1598.6" text-anchor="middle" transform="rotate(-90 2598.6 1591.2)">1.5k</text>
<path d="M1850 1529.3 L2407.5 1529.3"/>
<rect x="2407.6" y="1518.8" width="42" height="21"/>
<path d="M2449.3 1529.3 L2573.9 1529.3"/>
<circle cx="2573.9" cy="1529.3" r="3.6" fill="#000" stroke="none"/>
<text x="2428.6" y="1512.6" text-anchor="middle">R5ØØ</text>
<text x="2428.6" y="1561.9" text-anchor="middle">51ØR/1W</text>
<rect x="2563.4" y="1694.5" width="21" height="42"/>
<path d="M2573.9 1735.9 L2573.9 1778.3"/>
<path d="M2573.9 1652.7 L2573.9 1695.1"/>
<text x="2548.8" y="1723" text-anchor="middle" transform="rotate(-90 2548.8 1715.5)">R2Ø1</text>
<text x="2597.5" y="1732.4" text-anchor="middle" transform="rotate(-90 2597.5 1724.9)">221R/1W</text>
<circle cx="2553.5" cy="1818.2" r="33" stroke-width="2.6"/>
<path d="M2541 1797.1 L2541 1839.5" stroke-width="4.2"/>
<path d="M2449.3 1818.2 L2541 1818.2"/>
<path d="M2541 1803.4 L2573.9 1778.3"/>
<path d="M2541 1833.2 L2573.9 1858.4 L2573.9 1911.8"/>
<path d="M2559.1 1847.1 L2547.1 1843 L2552 1836.6 Z"/>
<path d="M2563.1 1911 L2573.9 1932.6 L2584.7 1911Z"/>
<path d="M2563.1 1932.6 L2584.7 1932.6"/>
<path d="M2573.9 1932.2 L2573.9 2006"/>
<text x="2632.7" y="1825.3" text-anchor="middle">T2ØØ</text>
<text x="2632.7" y="1846.4" text-anchor="middle">BC546B</text>
<text x="2548.8" y="1928.6" text-anchor="middle" transform="rotate(-90 2548.8 1921.2)">1N4148</text>
<text x="2597.5" y="1933.3" text-anchor="middle" transform="rotate(-90 2597.5 1925.9)">D2Ø1</text>
<rect x="2407.6" y="1807.7" width="42" height="21"/>
<text x="2428.6" y="1801.5" text-anchor="middle">R787</text>
<text x="2428.6" y="1850.8" text-anchor="middle">ØR</text>
<path d="M2325.3 1818.2 L2407.5 1818.2"/>
<circle cx="2367.3" cy="1818.2" r="3.6" fill="#000" stroke="none"/>
<path d="M2201.2 1756.3 L2325.3 1818.2 L2201.2 1879.7Z"/>
<path d="M2263.1 1611.9 L2263.1 1786.2"/>
<path d="M2263.1 1849.9 L2263.1 1947.9"/>
<rect x="2251.6" y="1945.7" width="23" height="4.4" fill="#000" stroke="none"/>
<text x="2263.1" y="1970.3" text-anchor="middle">GND</text>
<path d="M2203.4 1776.7 L2212.8 1776.7"/>
<text x="2208.1" y="1865.6" text-anchor="middle" style="font-size:16px;stroke:none;">+</text>
<text x="2191.5" y="1771.7" text-anchor="middle" style="font-size:15px;stroke:none;">4</text>
<text x="2253.7" y="1771.7" text-anchor="middle" style="font-size:15px;stroke:none;">3</text>
<text x="2335.9" y="1813.5" text-anchor="middle" style="font-size:15px;stroke:none;">2</text>
<text x="2191.5" y="1855.2" text-anchor="middle" style="font-size:15px;stroke:none;">5</text>
<text x="2253.7" y="1875.6" text-anchor="middle" style="font-size:15px;stroke:none;">12</text>
<text x="2191.5" y="1909.8" text-anchor="middle">S8ØØ\A</text>
<text x="2191.5" y="1929.6" text-anchor="middle">CA139EX</text>
<path d="M2011.9 1606.5 L2032.9 1611.9 L2011.9 1617.3Z"/>
<text x="2004" y="1619.3" text-anchor="end">+12V</text>
<path d="M2032.9 1611.9 L2077.2 1611.9"/>
<rect x="2077.2" y="1601.4" width="42" height="21"/>
<path d="M2119.3 1611.9 L2423.2 1611.9"/>
<circle cx="2263.1" cy="1611.9" r="3.6" fill="#000" stroke="none"/>
<circle cx="2367.3" cy="1611.9" r="3.6" fill="#000" stroke="none"/>
<rect x="2419.2" y="1594.9" width="4.3" height="34" fill="#000" stroke="none"/>
<rect x="2434.3" y="1594.9" width="4.3" height="34" fill="#000" stroke="none"/>
<path d="M2434.2 1611.9 L2491.4 1611.9 L2491.4 1721.2"/>
<circle cx="2491.4" cy="1694.5" r="3.6" fill="#000" stroke="none"/>
<rect x="2479.9" y="1719" width="23" height="4.4" fill="#000" stroke="none"/>
<text x="2491.4" y="1743.6" text-anchor="middle">GND</text>
<text x="2098.2" y="1594.2" text-anchor="middle">R31Ø</text>
<text x="2098.2" y="1644.5" text-anchor="middle">22ØR/1W</text>
<text x="2428.9" y="1589.5" text-anchor="middle">1ØØn</text>
<text x="2409.1" y="1630.5" text-anchor="middle" style="font-size:17px;stroke:none;">F</text>
<text x="2427.9" y="1649.2" text-anchor="middle">C2Ø1</text>
<text x="2427.9" y="1672.7" text-anchor="middle">ZY27</text>
<text x="2427.9" y="1727.7" text-anchor="middle">D311</text>
<path d="M2367.3 1694.5 L2418.5 1694.5"/>
<path d="M2439.7 1683.7 L2418.1 1694.5 L2439.7 1705.3Z"/>
<path d="M2418.1 1683.7 L2418.1 1705.3"/>
<path d="M2418.1 1683.7 L2422.1 1682.5 M2418.1 1705.3 L2414.1 1706.5"/>
<path d="M2438.9 1694.5 L2491.4 1694.5"/>
<circle cx="2367.3" cy="1694.5" r="3.6" fill="#000" stroke="none"/>
<path d="M2367.3 1611.9 L2367.3 1735.9"/>
<rect x="2356.8" y="1735.3" width="21" height="42"/>
<path d="M2367.3 1776.7 L2367.3 1947.9"/>
<rect x="2350.3" y="1870.6" width="34" height="4.3" fill="#000" stroke="none"/>
<rect x="2350.3" y="1885.8" width="34" height="4.3" fill="#000" stroke="none"/>
<rect x="2355.8" y="1945.7" width="23" height="4.4" fill="#000" stroke="none"/>
<text x="2367.3" y="1970.3" text-anchor="middle">GND</text>
<text x="2342.2" y="1763.8" text-anchor="middle" transform="rotate(-90 2342.2 1756.3)">R2Ø4</text>
<text x="2391.8" y="1763.8" text-anchor="middle" transform="rotate(-90 2391.8 1756.3)">22k</text>
<text x="2338.4" y="1887.8" text-anchor="middle" transform="rotate(-90 2338.4 1880.3)">C2Ø2</text>
<text x="2355.7" y="1867.5" text-anchor="middle" style="font-size:17px;stroke:none;" transform="rotate(-90 2355.7 1861.5)">F</text>
<text x="2395" y="1887.8" text-anchor="middle" transform="rotate(-90 2395 1880.3)">47Øn</text>
<path d="M2011.9 1689.1 L2032.9 1694.5 L2011.9 1699.9Z"/>
<text x="2004" y="1701.9" text-anchor="end">+5V</text>
<path d="M2032.9 1694.5 L2087.9 1694.5"/>
<path d="M2109.3 1683.7 L2087.7 1694.5 L2109.3 1705.3Z"/>
<path d="M2087.7 1683.7 L2087.7 1705.3"/>
<path d="M2109.2 1694.5 L2160.1 1694.5 L2160.1 1776.7"/>
<circle cx="2160.1" cy="1776.7" r="3.6" fill="#000" stroke="none"/>
<text x="2098.2" y="1677.4" text-anchor="middle">1N4148</text>
<text x="2098.2" y="1727.7" text-anchor="middle">D2Ø2</text>
<path d="M1932.8 2006 L1932.8 1776.7 L2077.2 1776.7"/>
<circle cx="1932.8" cy="2004.2" r="3.6" fill="#000" stroke="none"/>
<rect x="2077.2" y="1766.2" width="42" height="21"/>
<path d="M2119.3 1776.7 L2201.2 1776.7"/>
<text x="2098.2" y="1760" text-anchor="middle">R2Ø3</text>
<text x="2096.7" y="1809.9" text-anchor="middle">22k</text>
<path d="M2011.9 1854.5 L2032.9 1859.9 L2011.9 1865.3Z"/>
<text x="2004" y="1867.4" text-anchor="end">+5V</text>
<path d="M2032.9 1859.9 L2077.2 1859.9"/>
<rect x="2077.2" y="1849.4" width="42" height="21"/>
<path d="M2119.3 1859.9 L2201.2 1859.9"/>
<text x="2098.2" y="1843.2" text-anchor="middle">R2Ø2</text>
<text x="2098.2" y="1892.5" text-anchor="middle">ØR</text>
<path d="M930.7 1715 L930.7 1917.7"/>
<rect x="915.2" y="1842.8" width="31" height="4.5" stroke-width="1.3"/>
<rect x="915.2" y="1855.3" width="31" height="4.5" fill="#000" stroke="none"/>
<rect x="919.2" y="1915.5" width="23" height="4.4" fill="#000" stroke="none"/>
<text x="930.7" y="1940.2" text-anchor="middle">GND</text>
<text x="941.5" y="1837.2" text-anchor="middle" style="font-size:15px;stroke:none;">+</text>
<text x="902.6" y="1856" text-anchor="middle" transform="rotate(-90 902.6 1848.6)">1ØØu/4ØV</text>
<text x="960.9" y="1856" text-anchor="middle" transform="rotate(-90 960.9 1848.6)">C2</text>
<path d="M698 1797.7 L858.3 1797.7"/>
<circle cx="858.3" cy="1797.7" r="3.6" fill="#000" stroke="none"/>
<path d="M698 1880.3 L858.3 1880.3"/>
<circle cx="858.3" cy="1880.3" r="3.6" fill="#000" stroke="none"/>
<path d="M698 1963 L775.6 1963 L775.6 2045.7"/>
<circle cx="775.6" cy="2045.7" r="3.6" fill="#000" stroke="none"/>
<path d="M698 2045.7 L2263.4 2045.7 L2263.4 2292.5"/>
<path d="M985.2 2039.2 L971.7 2045.7 L985.2 2052.2"/>
<path d="M698 2128.3 L966 2128.3"/>
<path d="M966 2122.9 L986 2128.3 L966 2133.7Z"/>
<text x="1003" y="2135.8" text-anchor="start">ADV3Ø</text>
<path d="M698 2211 L965.8 2211"/>
<circle cx="899.9" cy="2211" r="3.6" fill="#000" stroke="none"/>
<path d="M986 2205.6 L966 2211 L986 2216.4Z"/>
<text x="1003" y="2218.5" text-anchor="start">ADV17</text>
<path d="M899.9 2211 L899.9 2252.2 L1188.9 2252.2 L1188.9 2190.6 L3234 2190.6"/>
<path d="M985.2 2245.7 L971.7 2252.2 L985.2 2258.7"/>
<path d="M698 2293.7 L2222.4 2293.7 L2222.4 2600"/>
<path d="M698 2376.3 L776 2376.3"/>
<rect x="775" y="2365.8" width="42" height="21"/>
<path d="M817 2376.3 L966 2376.3"/>
<path d="M966 2370.9 L986 2376.3 L966 2381.8Z"/>
<text x="1003" y="2383.8" text-anchor="start">ADV19</text>
<text x="796" y="2358.8" text-anchor="middle">R77Ø</text>
<text x="796" y="2408.8" text-anchor="middle">1ØØk</text>
<circle cx="899.9" cy="2376.3" r="3.6" fill="#000" stroke="none"/>
<path d="M899.9 2376.3 L899.9 2334.9 L940 2334.9"/>
<rect x="940" y="2324.4" width="42" height="21"/>
<path d="M982 2334.9 L1026.8 2334.9"/>
<path d="M1048.4 2329.5 L1026.8 2334.9 L1048.4 2340.3Z"/>
<text x="1065.7" y="2342.4" text-anchor="start">+5V</text>
<text x="961" y="2318" text-anchor="middle">R771</text>
<text x="961" y="2366.7" text-anchor="middle">2.2k</text>
<path d="M698 2459 L1271.6 2459 L1271.6 2004.2 L2574 2004.2"/>
<path d="M985.2 2452.5 L971.7 2459 L985.2 2465.5"/>
<path d="M698 2541.7 L776 2541.7"/>
<rect x="775" y="2531.2" width="42" height="21"/>
<path d="M817 2541.7 L966 2541.7"/>
<path d="M986 2536.3 L966 2541.7 L986 2547.1Z"/>
<text x="1003" y="2549.1" text-anchor="start">ADV2</text>
<text x="796" y="2524.1" text-anchor="middle">R1Ø3</text>
<text x="796" y="2574.1" text-anchor="middle">33k/1W</text>
<path d="M1230.4 2010 L1230.4 2400"/>
<path d="M1313.2 2500 L1313.2 2232.2 L4248.3 2232.2 L4248.3 1440"/>
<path d="M698 2624.4 L966 2624.4"/>
<path d="M966 2619 L986 2624.4 L966 2629.8Z"/>
<text x="1003" y="2631.8" text-anchor="start">ADV27</text>
<path d="M698 2707 L858.3 2707"/>
<circle cx="858.3" cy="2707" r="3.6" fill="#000" stroke="none"/>
<path d="M698 2789.7 L858.3 2789.7"/>
<circle cx="858.3" cy="2789.7" r="3.6" fill="#000" stroke="none"/>
<path d="M698 2872.4 L1230.4 2872.4 L1230.4 2400"/>
<path d="M969 2865.9 L982.5 2872.4 L969 2878.9"/>
<path d="M698 3120.4 L1313.2 3120.4 L1313.2 2500"/>
<path d="M985.2 3113.9 L971.7 3120.4 L985.2 3126.9"/>
<path d="M698 2955 L1529 2955"/>
<path d="M1551 2955 L1627.6 2955"/>
<path d="M969 2948.5 L982.5 2955 L969 2961.5"/>
<path d="M1550.8 2944.2 L1529.2 2955 L1550.8 2965.8Z"/>
<path d="M1529.2 2944.2 L1529.2 2965.8"/>
<circle cx="1478" cy="2955" r="3.6" fill="#000" stroke="none"/>
<circle cx="1602.3" cy="2955" r="3.6" fill="#000" stroke="none"/>
<path d="M1627.6 2949.6 L1647.6 2955 L1627.6 2960.4Z"/>
<text x="1665.5" y="2962.5" text-anchor="start">ADV24</text>
<path d="M698 3037.7 L1529 3037.7"/>
<path d="M1551 3037.7 L1627.6 3037.7"/>
<path d="M969 3031.2 L982.5 3037.7 L969 3044.2"/>
<path d="M1550.8 3026.9 L1529.2 3037.7 L1550.8 3048.5Z"/>
<path d="M1529.2 3026.9 L1529.2 3048.5"/>
<circle cx="1478" cy="3037.7" r="3.6" fill="#000" stroke="none"/>
<circle cx="1602.3" cy="3037.7" r="3.6" fill="#000" stroke="none"/>
<path d="M1627.6 3032.3 L1647.6 3037.7 L1627.6 3043.1Z"/>
<text x="1665.5" y="3045.2" text-anchor="start">ADV23</text>
<path d="M1478 2955 L1478 2830.7 L1627 2830.7"/>
<circle cx="1602.3" cy="2830.7" r="3.6" fill="#000" stroke="none"/>
<path d="M1648 2825.3 L1627.5 2830.7 L1648 2836.1Z"/>
<text x="1665.5" y="2838.2" text-anchor="start">+5V</text>
<path d="M1602.3 2830.7 L1602.3 2955"/>
<rect x="1467.5" y="2871.8" width="21" height="42"/>
<rect x="1591.8" y="2871.8" width="21" height="42"/>
<path d="M1478 3037.7 L1478 3161.4 L1627 3161.4"/>
<circle cx="1602.3" cy="3161.4" r="3.6" fill="#000" stroke="none"/>
<path d="M1648 3156 L1627.5 3161.4 L1648 3166.8Z"/>
<text x="1665.5" y="3168.9" text-anchor="start">+5V</text>
<path d="M1602.3 3037.7 L1602.3 3161.4"/>
<rect x="1467.5" y="3078.2" width="21" height="42"/>
<rect x="1591.8" y="3078.2" width="21" height="42"/>
<text x="1453.7" y="2900.3" text-anchor="middle" transform="rotate(-90 1453.7 2892.8)">R767</text>
<text x="1503.4" y="2900.3" text-anchor="middle" transform="rotate(-90 1503.4 2892.8)">47k</text>
<text x="1577.9" y="2900.3" text-anchor="middle" transform="rotate(-90 1577.9 2892.8)">R763</text>
<text x="1629.3" y="2900.3" text-anchor="middle" transform="rotate(-90 1629.3 2892.8)">15.3k/1%</text>
<text x="1540.1" y="2938.1" text-anchor="middle">BAØ</text>
<text x="1540.1" y="2987.8" text-anchor="middle">D75Ø</text>
<text x="1540.1" y="3020.2" text-anchor="middle">BAØ</text>
<text x="1540.1" y="3069.9" text-anchor="middle">D765</text>
<text x="1453.7" y="3106.7" text-anchor="middle" transform="rotate(-90 1453.7 3099.2)">R766</text>
<text x="1503.4" y="3106.7" text-anchor="middle" transform="rotate(-90 1503.4 3099.2)">47k</text>
<text x="1577.9" y="3106.7" text-anchor="middle" transform="rotate(-90 1577.9 3099.2)">R764</text>
<text x="1629.3" y="3106.7" text-anchor="middle" transform="rotate(-90 1629.3 3099.2)">15.3k/1%</text>
<path d="M3462.5 196.1 L3586.4 196.1 L3586.4 278.6 L3462.5 278.6 L3462.5 196.1" stroke-width="1.9"/>
<path d="M3441.8 176.1 L3606.8 176.1 L3606.8 299.3 L3441.8 299.3 L3441.8 176.1" stroke-dasharray="16.9 16.2"/>
<path d="M3441.8 176.1 L3462.5 196.1"/>
<path d="M3606.8 176.1 L3586.4 196.1"/>
<path d="M3462.5 278.6 L3446.4 295.7"/>
<path d="M3586.4 278.6 L3604.3 295.7"/>
<path d="M3355 232.1 L3376 237.5 L3355 242.9Z"/>
<text x="3348.9" y="245" text-anchor="end">+12V</text>
<path d="M3375.7 237.5 L3462.5 237.5"/>
<circle cx="3400.7" cy="237.5" r="3.6" fill="#000" stroke="none"/>
<text x="3451.4" y="232.5" text-anchor="middle" style="font-size:15px;stroke:none;">1</text>
<text x="3479.3" y="245" text-anchor="middle">IN</text>
<text x="3565" y="245" text-anchor="middle">OUT</text>
<text x="3523.9" y="273.9" text-anchor="middle">GND</text>
<text x="3596.4" y="232.5" text-anchor="middle" style="font-size:15px;stroke:none;">3</text>
<text x="3534.6" y="293.9" text-anchor="middle" style="font-size:15px;stroke:none;">2</text>
<path d="M3586.4 237.5 L3652.5 237.5"/>
<path d="M3652.5 232.1 L3673 237.5 L3652.5 242.9Z"/>
<circle cx="3627.5" cy="237.5" r="3.6" fill="#000" stroke="none"/>
<text x="3681.1" y="245" text-anchor="start">+5V</text>
<path d="M3400.7 237.5 L3400.7 361.8"/>
<rect x="3383.7" y="289.6" width="34" height="4.3" fill="#000" stroke="none"/>
<rect x="3383.7" y="304.7" width="34" height="4.3" fill="#000" stroke="none"/>
<path d="M3400.7 361.8 L3524.6 361.8"/>
<circle cx="3524.6" cy="361.8" r="3.6" fill="#000" stroke="none"/>
<path d="M3524.6 278.6 L3524.6 402.9"/>
<rect x="3514.1" y="402.6" width="21" height="42"/>
<path d="M3524.6 443.9 L3524.6 505.7"/>
<rect x="3514.1" y="505.4" width="21" height="42"/>
<path d="M3524.6 547.5 L3524.6 594.6"/>
<rect x="3513.1" y="592.4" width="23" height="4.4" fill="#000" stroke="none"/>
<text x="3524.6" y="617.1" text-anchor="middle">GND</text>
<path d="M3627.5 237.5 L3627.5 594.6"/>
<rect x="3611" y="415.5" width="33" height="4.5" stroke-width="1.3"/>
<rect x="3611" y="428.5" width="33" height="4.5" fill="#000" stroke="none"/>
<rect x="3616" y="592.4" width="23" height="4.4" fill="#000" stroke="none"/>
<text x="3627.5" y="617.1" text-anchor="middle">GND</text>
<text x="3523.9" y="141.7" text-anchor="middle">S3ØØ</text>
<text x="3523.9" y="162.1" text-anchor="middle">L47Ø5CV</text>
<text x="3371.4" y="306.7" text-anchor="middle" transform="rotate(-90 3371.4 299.3)">C3Ø2</text>
<text x="3388.2" y="285.7" text-anchor="middle" style="font-size:17px;stroke:none;" transform="rotate(-90 3388.2 279.6)">F</text>
<text x="3429.3" y="306.7" text-anchor="middle" transform="rotate(-90 3429.3 299.3)">1u/1ØØV</text>
<text x="3497.9" y="431" text-anchor="middle" transform="rotate(-90 3497.9 423.6)">D3Ø3</text>
<text x="3550.7" y="431" text-anchor="middle" transform="rotate(-90 3550.7 423.6)">ØR</text>
<text x="3497.9" y="533.9" text-anchor="middle" transform="rotate(-90 3497.9 526.4)">R3Ø3</text>
<text x="3550.7" y="533.9" text-anchor="middle" transform="rotate(-90 3550.7 526.4)">ØR</text>
<text x="3598.2" y="431" text-anchor="middle" transform="rotate(-90 3598.2 423.6)">1ØØu/1ØV</text>
<text x="3640" y="411" text-anchor="middle" style="font-size:15px;stroke:none;">+</text>
<text x="3657.1" y="431" text-anchor="middle" transform="rotate(-90 3657.1 423.6)">C3ØØ</text>
<path d="M3250 719 L3255.4 738.5 L3260.8 719Z"/>
<text x="3255.4" y="709.8" text-anchor="middle">+5V</text>
<path d="M3255.4 738.5 L3255.4 785.6"/>
<rect x="3244.9" y="785" width="21" height="42"/>
<path d="M3353.6 719 L3359 738.5 L3364.4 719Z"/>
<text x="3359" y="709.8" text-anchor="middle">+5V</text>
<path d="M3359 738.5 L3359 785.6"/>
<rect x="3348.5" y="785" width="21" height="42"/>
<path d="M3519.1 719 L3524.5 738.5 L3529.9 719Z"/>
<text x="3524.5" y="709.8" text-anchor="middle">+5V</text>
<path d="M3524.5 738.5 L3524.5 785.6"/>
<rect x="3514" y="785" width="21" height="42"/>
<path d="M3622 719 L3627.4 738.5 L3632.8 719Z"/>
<text x="3627.4" y="709.8" text-anchor="middle">+5V</text>
<path d="M3627.4 738.5 L3627.4 785.6"/>
<rect x="3616.9" y="785" width="21" height="42"/>
<path d="M3255.4 826.4 L3255.4 1169.9"/>
<circle cx="3255.4" cy="970.9" r="3.6" fill="#000" stroke="none"/>
<path d="M3359 826.4 L3359 937.9"/>
<circle cx="3359" cy="867.2" r="3.6" fill="#000" stroke="none"/>
<path d="M3524.5 826.4 L3524.5 937.9"/>
<circle cx="3524.5" cy="867.2" r="3.6" fill="#000" stroke="none"/>
<path d="M3627.4 826.4 L3627.4 970.9 L3565.6 970.9 L3541.1 941"/>
<path d="M3296.8 1169.9 L3296.8 867.2 L3359 867.2"/>
<circle cx="3359" cy="949.5" r="33" stroke-width="2.6"/>
<path d="M3338.6 937.9 L3379.4 937.9" stroke-width="4.2"/>
<path d="M3343.3 941 L3317.2 970.9 L3255.4 970.9"/>
<path d="M3374.7 941 L3401.4 970.9 L3483 970.9 L3508.1 941"/>
<circle cx="3441.6" cy="970.9" r="3.6" fill="#000" stroke="none"/>
<path d="M3388 955.9 L3377 949.7 L3383 944.3 Z"/>
<circle cx="3524.5" cy="949.5" r="33" stroke-width="2.6"/>
<path d="M3503.4 937.9 L3545.8 937.9" stroke-width="4.2"/>
<path d="M3495.6 955.9 L3500.2 944.2 L3506.4 949.3 Z"/>
<path d="M3441.6 970.9 L3441.6 1012.3"/>
<rect x="3431.1" y="1012" width="21" height="42"/>
<path d="M3441.6 1054.1 L3441.6 1101.2"/>
<rect x="3430.1" y="1099" width="23" height="4.4" fill="#000" stroke="none"/>
<text x="3441.6" y="1123.6" text-anchor="middle">GND</text>
<path d="M3524.5 867.2 L3844.7 867.2"/>
<circle cx="3679.3" cy="867.2" r="3.6" fill="#000" stroke="none"/>
<circle cx="3762.5" cy="867.2" r="3.6" fill="#000" stroke="none"/>
<path d="M3679.3 867.2 L3679.3 909.6"/>
<path d="M3679.3 950.5 L3679.3 997.5"/>
<rect x="3667.8" y="995.3" width="23" height="4.4" fill="#000" stroke="none"/>
<text x="3679.3" y="1020" text-anchor="middle">GND</text>
<path d="M3762.5 867.2 L3762.5 909.6"/>
<path d="M3762.5 950.5 L3762.5 997.5"/>
<rect x="3751" y="995.3" width="23" height="4.4" fill="#000" stroke="none"/>
<text x="3762.5" y="1020" text-anchor="middle">GND</text>
<path d="M3844.7 867.2 L3844.7 909.6"/>
<path d="M3844.7 950.5 L3844.7 997.5"/>
<rect x="3833.2" y="995.3" width="23" height="4.4" fill="#000" stroke="none"/>
<text x="3844.7" y="1020" text-anchor="middle">GND</text>
<rect x="3668.8" y="909" width="21" height="42"/>
<rect x="3752" y="909" width="21" height="42"/>
<text x="3762.5" y="936.1" text-anchor="middle" style="font-size:17px;stroke:none;" transform="rotate(-90 3762.5 930)">A</text>
<rect x="3834.2" y="909" width="21" height="42"/>
<text x="3844.7" y="936.1" text-anchor="middle" style="font-size:17px;stroke:none;" transform="rotate(-90 3844.7 930)">A</text>
<text x="3230.2" y="813.5" text-anchor="middle" transform="rotate(-90 3230.2 806)">R5Ø5</text>
<text x="3281.1" y="813.5" text-anchor="middle" transform="rotate(-90 3281.1 806)">1k</text>
<text x="3333.9" y="813.5" text-anchor="middle" transform="rotate(-90 3333.9 806)">R52Ø</text>
<text x="3384.7" y="813.5" text-anchor="middle" transform="rotate(-90 3384.7 806)">5.62k/1%</text>
<text x="3499.7" y="813.5" text-anchor="middle" transform="rotate(-90 3499.7 806)">R522</text>
<text x="3549.9" y="813.5" text-anchor="middle" transform="rotate(-90 3549.9 806)">5.62k/1%</text>
<text x="3602.3" y="813.5" text-anchor="middle" transform="rotate(-90 3602.3 806)">R529</text>
<text x="3652.6" y="813.5" text-anchor="middle" transform="rotate(-90 3652.6 806)">1k</text>
<text x="3359.6" y="1038" text-anchor="middle" transform="rotate(-90 3359.6 1030.5)">T5Ø2</text>
<text x="3379.7" y="1038" text-anchor="middle" transform="rotate(-90 3379.7 1030.5)">BC548C</text>
<text x="3417.1" y="1040.5" text-anchor="middle" transform="rotate(-90 3417.1 1033)">R527</text>
<text x="3466.4" y="1040.5" text-anchor="middle" transform="rotate(-90 3466.4 1033)">287R/1%</text>
<text x="3503.4" y="1038" text-anchor="middle" transform="rotate(-90 3503.4 1030.5)">BC548C</text>
<text x="3523.8" y="1038" text-anchor="middle" transform="rotate(-90 3523.8 1030.5)">T5Ø5</text>
<text x="3654.1" y="937.5" text-anchor="middle" transform="rotate(-90 3654.1 930)">R523</text>
<text x="3704.4" y="937.5" text-anchor="middle" transform="rotate(-90 3704.4 930)">3.83k/1%</text>
<text x="3737.3" y="937.5" text-anchor="middle" transform="rotate(-90 3737.3 930)">R526</text>
<text x="3787.6" y="937.5" text-anchor="middle" transform="rotate(-90 3787.6 930)">121k/1%</text>
<text x="3819.9" y="937.5" text-anchor="middle" transform="rotate(-90 3819.9 930)">R5Ø8</text>
<text x="3869.2" y="937.5" text-anchor="middle" transform="rotate(-90 3869.2 930)">14.7k/1%</text>
<path d="M3844.7 1043.5 L4185.7 1043.5"/>
<circle cx="3937.6" cy="1043.5" r="3.6" fill="#000" stroke="none"/>
<circle cx="4020.8" cy="1043.5" r="3.6" fill="#000" stroke="none"/>
<circle cx="4103.2" cy="1043.5" r="3.6" fill="#000" stroke="none"/>
<path d="M3844.7 1043.5 L3844.7 1425.6"/>
<path d="M3833.9 1116.4 L3844.7 1094.8 L3855.5 1116.4Z"/>
<path d="M3833.9 1094.8 L3855.5 1094.8"/>
<path d="M3833.9 1219.2 L3844.7 1197.6 L3855.5 1219.2Z"/>
<path d="M3833.9 1197.6 L3855.5 1197.6"/>
<path d="M3937.6 1043.5 L3937.6 1229.3 L4248.5 1229.3 L4248.5 1444.9"/>
<rect x="3920.6" y="1095.9" width="34" height="4.3" fill="#000" stroke="none"/>
<rect x="3920.6" y="1111" width="34" height="4.3" fill="#000" stroke="none"/>
<circle cx="4020.8" cy="1229.3" r="3.6" fill="#000" stroke="none"/>
<circle cx="4113.7" cy="1229.3" r="3.6" fill="#000" stroke="none"/>
<path d="M4020.8 1043.5 L4020.8 1229.3"/>
<rect x="4010.3" y="1084.6" width="21" height="42"/>
<path d="M4103.2 1043.5 L4103.2 1173.9"/>
<rect x="4092.7" y="1084.6" width="21" height="42"/>
<rect x="4091.7" y="1171.7" width="23" height="4.4" fill="#000" stroke="none"/>
<text x="4103.2" y="1196.3" text-anchor="middle">GND</text>
<path d="M4185.7 1043.5 L4185.7 1173.9"/>
<rect x="4175.2" y="1084.6" width="21" height="42"/>
<text x="4185.7" y="1111.6" text-anchor="middle" style="font-size:17px;stroke:none;" transform="rotate(-90 4185.7 1105.6)">A</text>
<rect x="4174.2" y="1171.7" width="23" height="4.4" fill="#000" stroke="none"/>
<text x="4185.7" y="1196.3" text-anchor="middle">GND</text>
<path d="M4113.7 1229.3 L4113.7 1322.2"/>
<text x="3820.1" y="1113" text-anchor="middle" transform="rotate(-90 3820.1 1105.6)">D5Ø5</text>
<text x="3870.4" y="1111.7" text-anchor="middle" transform="rotate(-90 3870.4 1104.3)">1N4148</text>
<text x="3820.1" y="1216.4" text-anchor="middle" transform="rotate(-90 3820.1 1208.9)">D5Ø6</text>
<text x="3870.4" y="1215.3" text-anchor="middle" transform="rotate(-90 3870.4 1207.9)">1N4148</text>
<text x="3908.3" y="1113.8" text-anchor="middle" transform="rotate(-90 3908.3 1106.3)">C5Ø2</text>
<text x="3927.4" y="1092.8" text-anchor="middle" style="font-size:17px;stroke:none;" transform="rotate(-90 3927.4 1086.7)">F</text>
<text x="3967.2" y="1113.8" text-anchor="middle" transform="rotate(-90 3967.2 1106.3)">33Øp/4ØØV</text>
<text x="3996" y="1113.8" text-anchor="middle" transform="rotate(-90 3996 1106.3)">R514</text>
<text x="4045.7" y="1111.7" text-anchor="middle" transform="rotate(-90 4045.7 1104.3)">1.8k/1W</text>
<text x="4078.4" y="1113.8" text-anchor="middle" transform="rotate(-90 4078.4 1106.3)">R516</text>
<text x="4128.1" y="1113.8" text-anchor="middle" transform="rotate(-90 4128.1 1106.3)">5.62k/1%</text>
<text x="4160.8" y="1113.8" text-anchor="middle" transform="rotate(-90 4160.8 1106.3)">R517</text>
<text x="4210.5" y="1113.8" text-anchor="middle" transform="rotate(-90 4210.5 1106.3)">8.25k/1%</text>
<path d="M3927.3 1301.5 L4186.3 1301.5 L4186.3 1477.1 L3927.3 1477.1 L3927.3 1301.5" stroke-width="1.9"/>
<path d="M4161.3 1322.5 L4161.3 1444.3"/>
<path d="M4161.3 1322.5 L4031.7 1322.5 L4010.1 1342.5"/>
<path d="M4010.1 1332.1 L4010.1 1374.5"/>
<path d="M4010.1 1353.2 L3950.1 1353.2"/>
<path d="M4010.1 1364.1 L4030.7 1383.9 L4030.7 1444.3"/>
<path d="M4025.6 1379 L4015.1 1374.7 L4020.9 1368.6 Z"/>
<path d="M4113.2 1322.5 L4113.2 1362.1 L4092.8 1381.3"/>
<path d="M4092.8 1371.9 L4092.8 1413.8"/>
<path d="M4092.8 1392.5 L4030.7 1392.5"/>
<path d="M4092.8 1403.8 L4113.2 1423.6 L4113.2 1444.3"/>
<path d="M4108.1 1418.6 L4097.6 1414.4 L4103.5 1408.3 Z"/>
<path d="M4175.7 1382.2 L4146.3 1382.2"/>
<path d="M4175.7 1402.9 L4146.3 1402.9 L4161 1382.2Z"/>
<path d="M4161.3 1444.3 L4097.1 1444.3"/>
<path d="M4049.2 1444.3 L4014.4 1444.3"/>
<path d="M3966.5 1444.3 L3950.1 1444.3"/>
<path d="M4049.2 1436 L4097.1 1436 L4097.1 1452.5 L4049.2 1452.5 L4049.2 1436"/>
<path d="M3966.5 1436 L4014.4 1436 L4014.4 1452.5 L3966.5 1452.5 L3966.5 1436"/>
<path d="M3950.1 1353.2 L3950.1 1444.3"/>
<circle cx="4113.2" cy="1322.5" r="3.6" fill="#000" stroke="none"/>
<circle cx="4113.2" cy="1444.3" r="3.6" fill="#000" stroke="none"/>
<circle cx="4030.7" cy="1392.5" r="3.6" fill="#000" stroke="none"/>
<circle cx="4030.7" cy="1444.3" r="3.6" fill="#000" stroke="none"/>
<circle cx="3950.1" cy="1353.2" r="3.6" fill="#000" stroke="none"/>
<path d="M3896.5 1271.2 L4217.6 1271.2 L4217.6 1508.3 L3896.5 1508.3 L3896.5 1271.2" stroke-dasharray="16.9 16.2"/>
<path d="M3896.5 1271.2 L3912.5 1287.2"/>
<path d="M4217.6 1271.2 L4201.6 1287.2"/>
<path d="M3927.3 1477.1 L3911.3 1493.1"/>
<path d="M4186.3 1477.1 L4202.3 1493.1"/>
<path d="M4065.6 1271.2 L4079.6 1271.2"/>
<path d="M4072.6 1271.2 L4072.6 1287.2"/>
<path d="M4072.6 1477.1 L4072.6 1493.1"/>
<path d="M3911.3 1384.3 L3927.3 1384.3"/>
<path d="M4201.6 1384.3 L4217.6 1384.3"/>
<path d="M4217.6 1382.3 L4217.6 1397.3"/>
<path d="M4113.9 1477.1 L4113.9 1550.1"/>
<text x="4165.8" y="1536.9" text-anchor="middle">T5Ø4</text>
<text x="4165.8" y="1557.6" text-anchor="middle">1Ø12</text>
<path d="M3600 1353.4 L3761.7 1353.4"/>
<rect x="3761.4" y="1342.9" width="42" height="21"/>
<path d="M3803.4 1353.4 L3950.2 1353.4"/>
<circle cx="3844.9" cy="1353.4" r="3.6" fill="#000" stroke="none"/>
<path d="M3950.2 1353.4 L4010.2 1353.4"/>
<path d="M3844.9 1300 L3844.9 1720.9"/>
<rect x="3834.4" y="1425.4" width="21" height="42"/>
<circle cx="3844.9" cy="1550.1" r="3.6" fill="#000" stroke="none"/>
<rect x="3834.4" y="1632.2" width="21" height="42"/>
<rect x="3833.4" y="1718.7" width="23" height="4.4" fill="#000" stroke="none"/>
<text x="3844.9" y="1743.4" text-anchor="middle">GND</text>
<path d="M3600 1312.2 L3710.4 1312.2 L3710.4 1550.1 L3761.7 1550.1"/>
<rect x="3761.4" y="1539.6" width="42" height="21"/>
<path d="M3803.4 1550.1 L4113.9 1550.1"/>
<circle cx="3938" cy="1550.1" r="3.6" fill="#000" stroke="none"/>
<circle cx="4020.9" cy="1550.1" r="3.6" fill="#000" stroke="none"/>
<path d="M3938 1550.1 L3938 1720.9"/>
<rect x="3927.5" y="1632.2" width="21" height="42"/>
<rect x="3926.5" y="1718.7" width="23" height="4.4" fill="#000" stroke="none"/>
<text x="3938" y="1743.4" text-anchor="middle">GND</text>
<path d="M4020.9 1550.1 L4020.9 1720.9"/>
<rect x="4003.9" y="1643.5" width="34" height="4.3" fill="#000" stroke="none"/>
<rect x="4003.9" y="1658.6" width="34" height="4.3" fill="#000" stroke="none"/>
<rect x="4009.4" y="1718.7" width="23" height="4.4" fill="#000" stroke="none"/>
<text x="4020.9" y="1743.4" text-anchor="middle">GND</text>
<path d="M4103.3 1720.9 L4103.3 1591.3 L4248.1 1591.3"/>
<path d="M4092.5 1664 L4103.3 1642.4 L4114.1 1664Z"/>
<path d="M4092.5 1642.4 L4114.1 1642.4"/>
<rect x="4091.8" y="1718.7" width="23" height="4.4" fill="#000" stroke="none"/>
<text x="4103.3" y="1743.4" text-anchor="middle">GND</text>
<path d="M4185.6 1591.3 L4185.6 1720.9"/>
<rect x="4168.6" y="1643.5" width="34" height="4.3" fill="#000" stroke="none"/>
<rect x="4168.6" y="1658.6" width="34" height="4.3" fill="#000" stroke="none"/>
<rect x="4174.1" y="1718.7" width="23" height="4.4" fill="#000" stroke="none"/>
<text x="4185.6" y="1743.4" text-anchor="middle">GND</text>
<circle cx="4185.6" cy="1591.3" r="3.6" fill="#000" stroke="none"/>
<circle cx="4248.1" cy="1591.3" r="3.6" fill="#000" stroke="none"/>
<path d="M3558 1653.2 L3610.7 1653.2"/>
<path d="M3632 1647.8 L3610.7 1653.2 L3632 1658.6Z"/>
<text x="3650.3" y="1660.7" text-anchor="start">+12V</text>
<text x="3782.4" y="1337" text-anchor="middle">R521</text>
<text x="3783" y="1386.1" text-anchor="middle">15R/1W</text>
<text x="3782.4" y="1533.2" text-anchor="middle">2.2k</text>
<text x="3782.4" y="1582.9" text-anchor="middle">R53Ø</text>
<text x="3819.6" y="1453.9" text-anchor="middle" transform="rotate(-90 3819.6 1446.4)">R515</text>
<text x="3869.9" y="1453.2" text-anchor="middle" transform="rotate(-90 3869.9 1445.8)">1ØØR</text>
<text x="3819.6" y="1660.7" text-anchor="middle" transform="rotate(-90 3819.6 1653.2)">R528</text>
<text x="3869.9" y="1660.7" text-anchor="middle" transform="rotate(-90 3869.9 1653.2)">R1/&gt;1W</text>
<text x="3912.6" y="1660.7" text-anchor="middle" transform="rotate(-90 3912.6 1653.2)">R518</text>
<text x="3963" y="1661.3" text-anchor="middle" transform="rotate(-90 3963 1653.8)">R1Ø/&gt;1W</text>
<text x="3991.3" y="1660.7" text-anchor="middle" transform="rotate(-90 3991.3 1653.2)">C5Ø5</text>
<text x="4002.6" y="1640.9" text-anchor="middle" style="font-size:17px;stroke:none;" transform="rotate(-90 4002.6 1634.9)">F</text>
<text x="4049.9" y="1660.7" text-anchor="middle" transform="rotate(-90 4049.9 1653.2)">1Øn</text>
<text x="4078" y="1660.7" text-anchor="middle" transform="rotate(-90 4078 1653.2)">D5Ø8</text>
<text x="4129.2" y="1662.8" text-anchor="middle" transform="rotate(-90 4129.2 1655.3)">BYW54(TFK)</text>
<text x="4158.2" y="1655.2" text-anchor="middle" transform="rotate(-90 4158.2 1647.7)">C1</text>
<text x="4170.4" y="1640.9" text-anchor="middle" style="font-size:17px;stroke:none;" transform="rotate(-90 4170.4 1634.9)">F</text>
<text x="4216.1" y="1661.3" text-anchor="middle" transform="rotate(-90 4216.1 1653.8)">1Øn/1ØØØV</text>
<path d="M3090.1 1425.9 L3173 1425.9"/>
<rect x="3172.9" y="1415.4" width="42" height="21"/>
<path d="M3214.8 1425.9 L3325.9 1425.9"/>
<circle cx="3132" cy="1425.9" r="3.6" fill="#000" stroke="none"/>
<circle cx="3256.1" cy="1425.9" r="3.6" fill="#000" stroke="none"/>
<path d="M3132 1425.9 L3132 1570.1 L3060 1570.1"/>
<path d="M3100 1570.2 L3131.7 1570.2"/>
<path d="M3256.1 1280 L3256.1 1425.9"/>
<path d="M3256 1160 L3256 1290"/>
<path d="M3296.7 1160 L3296.7 1290"/>
<path d="M3296.6 1280 L3296.6 1312.6 L3700 1312.6"/>
<circle cx="3338.4" cy="1425.9" r="32.9" stroke-width="2.6"/>
<path d="M3325.9 1405.5 L3325.9 1446.6" stroke-width="4.2"/>
<path d="M3325.9 1413.9 L3359.1 1384.6 L3359.1 1353.4 L3700 1353.4"/>
<path d="M3344.1 1397.8 L3337.8 1408.7 L3332.5 1402.7 Z"/>
<path d="M3325.9 1439 L3359.1 1467.5 L3359.1 1570.1"/>
<circle cx="3483.2" cy="1353.4" r="3.6" fill="#000" stroke="none"/>
<rect x="3348.6" y="1570.1" width="21" height="42"/>
<path d="M3359.1 1612 L3359.1 1694.3"/>
<circle cx="3359.1" cy="1529.1" r="3.6" fill="#000" stroke="none"/>
<circle cx="3359.1" cy="1653" r="3.6" fill="#000" stroke="none"/>
<circle cx="3462.6" cy="1529.1" r="62" stroke-width="1.3"/>
<path d="M3508.6 1529.1 L3524.6 1529.1" stroke-width="1.3"/>
<path d="M3495.1 1561.7 L3506.4 1573" stroke-width="1.3"/>
<path d="M3462.6 1575.1 L3462.6 1591.1" stroke-width="1.3"/>
<path d="M3430.1 1561.7 L3418.7 1573" stroke-width="1.3"/>
<path d="M3430.1 1496.6 L3418.7 1485.3" stroke-width="1.3"/>
<path d="M3462.6 1483.1 L3462.6 1467.1" stroke-width="1.3"/>
<path d="M3495.1 1496.6 L3506.4 1485.3" stroke-width="1.3"/>
<circle cx="3462.6" cy="1529.1" r="32.9" stroke-width="2.6"/>
<path d="M3449.2 1508.2 L3449.2 1549.2" stroke-width="4.2"/>
<path d="M3359.1 1529.1 L3449.2 1529.1"/>
<path d="M3449.2 1515.7 L3483.2 1487.8 L3483.2 1353.4"/>
<path d="M3449.2 1542.3 L3483.2 1570.1 L3483.2 1653"/>
<path d="M3466.2 1556.2 L3454.4 1551.7 L3459.5 1545.5 Z"/>
<circle cx="3483.2" cy="1653" r="3.6" fill="#000" stroke="none"/>
<path d="M3160 1653.1 L3532 1653.1"/>
<path d="M3556.2 1642.2 L3534.6 1653 L3556.2 1663.8Z"/>
<path d="M3534.6 1642.2 L3534.6 1663.8"/>
<path d="M3556.6 1653 L3611 1653"/>
<text x="3193.9" y="1408.8" text-anchor="middle">D5Ø2</text>
<text x="3193.9" y="1459" text-anchor="middle">ØR</text>
<text x="3100.5" y="1422" text-anchor="middle" style="font-size:15px;stroke:none;">1</text>
<text x="3418.5" y="1413.6" text-anchor="middle">BC546B</text>
<text x="3418.5" y="1433.1" text-anchor="middle">T5Ø1</text>
<text x="3566.4" y="1557.5" text-anchor="middle">T5Ø3</text>
<text x="3566.4" y="1577.6" text-anchor="middle">ON946</text>
<text x="3334.8" y="1598.5" text-anchor="middle" transform="rotate(-90 3334.8 1591.1)">R5Ø3</text>
<text x="3385" y="1598.5" text-anchor="middle" transform="rotate(-90 3385 1591.1)">15ØR</text>
<text x="3545.4" y="1636.2" text-anchor="middle">1N4148</text>
<text x="3545.4" y="1685" text-anchor="middle">D31Ø</text>
<rect x="3348.9" y="1694" width="21" height="42"/>
<path d="M3359.4 1694.2 L3359.4 1694.3"/>
<path d="M3359.4 1735.7 L3359.4 1839.5"/>
<path d="M3359.4 1839.5 L3392 1867.4"/>
<circle cx="3359.4" cy="1777.3" r="3.6" fill="#000" stroke="none"/>
<path d="M3235 2153.1 L3235 1777.3 L3276.3 1777.3"/>
<rect x="3275.9" y="1766.8" width="42" height="21"/>
<path d="M3317.5 1777.3 L3359.4 1777.3"/>
<path d="M3235 2153 L3235 2190.6"/>
<circle cx="3380" cy="1880.5" r="32.9" stroke-width="2.6"/>
<path d="M3392 1859.6 L3392 1900.9" stroke-width="4.2"/>
<path d="M3392 1880.5 L3503.6 1880.5"/>
<circle cx="3462.6" cy="1880.5" r="3.6" fill="#000" stroke="none"/>
<rect x="3503.3" y="1870" width="42" height="21"/>
<path d="M3544.9 1880.5 L3590.7 1880.5"/>
<path d="M3611.6 1875.1 L3590.6 1880.5 L3611.6 1885.9Z"/>
<text x="3628.3" y="1888" text-anchor="start">ADV15</text>
<path d="M3392 1894.5 L3359.4 1921.8 L3359.4 2010.5"/>
<path d="M3374.1 1909.5 L3380.7 1898.7 L3385.8 1904.9 Z"/>
<rect x="3347.9" y="2008.3" width="23" height="4.4" fill="#000" stroke="none"/>
<text x="3359.4" y="2033" text-anchor="middle">GND</text>
<path d="M3462.6 1880.5 L3462.6 1921.8"/>
<rect x="3452.1" y="1921.7" width="21" height="42"/>
<path d="M3462.6 1963.6 L3462.6 2010.5"/>
<rect x="3451.1" y="2008.3" width="23" height="4.4" fill="#000" stroke="none"/>
<text x="3462.6" y="2033" text-anchor="middle">GND</text>
<text x="3296.9" y="1760.5" text-anchor="middle">R73Ø</text>
<text x="3296.9" y="1810.1" text-anchor="middle">51ØR/1W</text>
<text x="3300.5" y="1888" text-anchor="middle">T73Ø</text>
<text x="3299.4" y="1908.9" text-anchor="middle">BC546B</text>
<text x="3524.3" y="1864.2" text-anchor="middle">R738</text>
<text x="3524.3" y="1913.9" text-anchor="middle">2.2k</text>
<text x="3436.7" y="1950.2" text-anchor="middle" transform="rotate(-90 3436.7 1942.7)">R737</text>
<text x="3487.7" y="1950.2" text-anchor="middle" transform="rotate(-90 3487.7 1942.7)">2.2k</text>
<text x="3334.8" y="1722.5" text-anchor="middle" transform="rotate(-90 3334.8 1715)">R731</text>
<text x="3385" y="1722.5" text-anchor="middle" transform="rotate(-90 3385 1715)">1.5k</text>
<path d="M2264.1 2150 L2264.1 2292.5"/>
<circle cx="2264.1" cy="2292.5" r="3.6" fill="#000" stroke="none"/>
<path d="M2264.1 2292.5 L2986.3 2292.5"/>
<circle cx="2945.1" cy="2292.5" r="3.6" fill="#000" stroke="none"/>
<rect x="2986.2" y="2282" width="42" height="21"/>
<path d="M3028.8 2292.5 L3194.1 2292.5"/>
<circle cx="3131.4" cy="2292.5" r="3.6" fill="#000" stroke="none"/>
<path d="M2945.1 2292.5 L2945.1 2376.8 L2986.3 2376.8"/>
<rect x="2986.2" y="2366.3" width="42" height="21"/>
<path d="M3028.8 2376.8 L3069.3 2376.8"/>
<path d="M3131.4 2292.5 L3131.4 2437.6"/>
<rect x="3114.4" y="2357.9" width="34" height="4.3" fill="#000" stroke="none"/>
<rect x="3114.4" y="2373" width="34" height="4.3" fill="#000" stroke="none"/>
<circle cx="3131.4" cy="2437.6" r="3.6" fill="#000" stroke="none"/>
<path d="M2672.6 2371.4 L2693.9 2376.8 L2672.6 2382.2Z"/>
<text x="2664.1" y="2384.3" text-anchor="end">+12V-A</text>
<path d="M2694.1 2376.8 L2739.2 2376.8"/>
<rect x="2738.5" y="2366.3" width="42" height="21"/>
<path d="M2780.4 2376.8 L2820.9 2376.8"/>
<text x="3007.2" y="2277.1" text-anchor="middle">1k</text>
<text x="3007.2" y="2326.1" text-anchor="middle">R4Ø4</text>
<text x="2759.5" y="2360.1" text-anchor="middle">R4Ø2</text>
<text x="2759.5" y="2409.1" text-anchor="middle">15R/1W</text>
<text x="3007.2" y="2360.1" text-anchor="middle">1k</text>
<text x="3007.2" y="2409.1" text-anchor="middle">R4Ø3</text>
<text x="3103.9" y="2373.1" text-anchor="middle" transform="rotate(-90 3103.9 2365.7)">C4Ø5</text>
<text x="3120.3" y="2352.1" text-anchor="middle" style="font-size:17px;stroke:none;" transform="rotate(-90 3120.3 2346.1)">F</text>
<text x="3162.8" y="2375.1" text-anchor="middle" transform="rotate(-90 3162.8 2367.6)">68Øp/4ØØV</text>
<path d="M2868 2557.6 L3270.8 2557.6 L3270.8 2649.8 L2868 2649.8 L2868 2557.6" stroke-width="1.9"/>
<path d="M2868 2588.2 L2883.3 2588.2 L2883.3 2618.8 L2868 2618.8 L2868 2588.2"/>
<text x="3038.2" y="2611.4" text-anchor="middle">S4ØØ</text>
<text x="3131.2" y="2611.4" text-anchor="middle">Ø127</text>
<text x="2893.1" y="2552.4" text-anchor="middle" style="font-size:15px;stroke:none;" transform="rotate(-90 2893.1 2547.1)">14</text>
<text x="2893.1" y="2664.9" text-anchor="middle" style="font-size:15px;stroke:none;" transform="rotate(-90 2893.1 2659.6)">1</text>
<text x="2955.1" y="2552.4" text-anchor="middle" style="font-size:15px;stroke:none;" transform="rotate(-90 2955.1 2547.1)">13</text>
<text x="2955.1" y="2664.9" text-anchor="middle" style="font-size:15px;stroke:none;" transform="rotate(-90 2955.1 2659.6)">2</text>
<text x="3017.5" y="2552.4" text-anchor="middle" style="font-size:15px;stroke:none;" transform="rotate(-90 3017.5 2547.1)">12</text>
<text x="3017.5" y="2664.9" text-anchor="middle" style="font-size:15px;stroke:none;" transform="rotate(-90 3017.5 2659.6)">3</text>
<text x="3079.4" y="2552.4" text-anchor="middle" style="font-size:15px;stroke:none;" transform="rotate(-90 3079.4 2547.1)">11</text>
<text x="3079.4" y="2664.9" text-anchor="middle" style="font-size:15px;stroke:none;" transform="rotate(-90 3079.4 2659.6)">4</text>
<text x="3141" y="2552.4" text-anchor="middle" style="font-size:15px;stroke:none;" transform="rotate(-90 3141 2547.1)">1Ø</text>
<text x="3141" y="2664.9" text-anchor="middle" style="font-size:15px;stroke:none;" transform="rotate(-90 3141 2659.6)">5</text>
<text x="3203.7" y="2552.4" text-anchor="middle" style="font-size:15px;stroke:none;" transform="rotate(-90 3203.7 2547.1)">9</text>
<text x="3203.7" y="2664.9" text-anchor="middle" style="font-size:15px;stroke:none;" transform="rotate(-90 3203.7 2659.6)">6</text>
<text x="3265.7" y="2552.4" text-anchor="middle" style="font-size:15px;stroke:none;" transform="rotate(-90 3265.7 2547.1)">8</text>
<text x="3265.7" y="2664.9" text-anchor="middle" style="font-size:15px;stroke:none;" transform="rotate(-90 3265.7 2659.6)">7</text>
<path d="M2553.1 2438.4 L3131.2 2438.4"/>
<circle cx="2635.5" cy="2438.4" r="3.6" fill="#000" stroke="none"/>
<circle cx="3131.2" cy="2438.4" r="3.6" fill="#000" stroke="none"/>
<path d="M2553.1 2438.4 L2553.1 2610.6"/>
<rect x="2536.1" y="2532.3" width="34" height="4.3" fill="#000" stroke="none"/>
<rect x="2536.1" y="2547.4" width="34" height="4.3" fill="#000" stroke="none"/>
<rect x="2541.6" y="2608.4" width="23" height="4.4" fill="#000" stroke="none"/>
<text x="2553.1" y="2633" text-anchor="middle">GND</text>
<path d="M2635.5 2438.4 L2635.5 3036.9"/>
<rect x="2625" y="2521" width="21" height="42"/>
<circle cx="2635.5" cy="2892.9" r="3.6" fill="#000" stroke="none"/>
<circle cx="2635.5" cy="2986.3" r="3.6" fill="#000" stroke="none"/>
<path d="M2718.6 2610.6 L2718.6 2480.4 L2945.3 2480.4 L2945.3 2557.6"/>
<rect x="2703.1" y="2534.2" width="31" height="4.5" stroke-width="1.3"/>
<rect x="2703.1" y="2546.7" width="31" height="4.5" fill="#000" stroke="none"/>
<rect x="2707.1" y="2608.4" width="23" height="4.4" fill="#000" stroke="none"/>
<text x="2718.6" y="2633" text-anchor="middle">GND</text>
<text x="2730.8" y="2530" text-anchor="middle" style="font-size:15px;stroke:none;">+</text>
<path d="M2821.4 2400 L2821.4 2831.4"/>
<circle cx="2821.4" cy="2521.6" r="3.6" fill="#000" stroke="none"/>
<path d="M2821.4 2521.6 L2883.3 2521.6 L2883.3 2557.6"/>
<path d="M2821.4 2831.4 L3069.6 2831.4"/>
<circle cx="2945.3" cy="2831.4" r="3.6" fill="#000" stroke="none"/>
<circle cx="3069.6" cy="2831.4" r="3.6" fill="#000" stroke="none"/>
<path d="M3007.7 2557.6 L3007.7 2521.6 L3317.5 2521.6 L3317.5 2548.2"/>
<circle cx="3255.9" cy="2521.6" r="3.6" fill="#000" stroke="none"/>
<rect x="3306" y="2546" width="23" height="4.4" fill="#000" stroke="none"/>
<text x="3317.5" y="2570.7" text-anchor="middle">GND</text>
<path d="M3069.6 2400 L3069.6 2557.6"/>
<path d="M3131.2 2400 L3131.2 2557.6"/>
<path d="M3193.9 2400 L3193.9 2557.6"/>
<path d="M3255.9 2521.6 L3255.9 2557.6"/>
<path d="M2883.3 2649.8 L2883.3 3016.5 L2799 3016.5"/>
<circle cx="2883.3" cy="2892.9" r="3.6" fill="#000" stroke="none"/>
<path d="M2945.3 2649.8 L2945.3 2961.6"/>
<rect x="2934.8" y="2748.4" width="21" height="42"/>
<path d="M2934.5 2904.9 L2945.3 2883.3 L2956.1 2904.9Z"/>
<path d="M2934.5 2883.3 L2956.1 2883.3"/>
<path d="M2934.5 2883.3 L2933.3 2887.3 M2956.1 2883.3 L2957.3 2879.3"/>
<rect x="2933.8" y="2959.4" width="23" height="4.4" fill="#000" stroke="none"/>
<text x="2945.3" y="2984" text-anchor="middle">GND</text>
<path d="M3007.7 2649.8 L3007.7 2707.1 L2450 2707.1"/>
<path d="M3069.6 2649.8 L3069.6 2961.6"/>
<circle cx="3069.6" cy="2707.1" r="3.6" fill="#000" stroke="none"/>
<rect x="3059.1" y="2748.4" width="21" height="42"/>
<rect x="3052.6" y="2883.6" width="34" height="4.3" fill="#000" stroke="none"/>
<rect x="3052.6" y="2898.7" width="34" height="4.3" fill="#000" stroke="none"/>
<rect x="3058.1" y="2959.4" width="23" height="4.4" fill="#000" stroke="none"/>
<text x="3069.6" y="2984" text-anchor="middle">GND</text>
<path d="M3069.6 2707.1 L3162.6 2707.1 L3162.6 2913.7 L3276.7 2913.7"/>
<circle cx="3214.7" cy="2913.7" r="3.6" fill="#000" stroke="none"/>
<rect x="3276.1" y="2903.2" width="42" height="21"/>
<path d="M3131.2 2649.8 L3131.2 3036.9"/>
<path d="M3193.9 2649.8 L3193.9 2837.3"/>
<rect x="3182.4" y="2835.1" width="23" height="4.4" fill="#000" stroke="none"/>
<text x="3193.9" y="2859.7" text-anchor="middle">GND</text>
<path d="M3255.9 2649.8 L3255.9 2707.1 L3297.1 2707.1"/>
<rect x="3296.5" y="2696.6" width="42" height="21"/>
<path d="M3214.7 2913.7 L3214.7 3036.9"/>
<rect x="3197.7" y="2990.3" width="34" height="4.3" fill="#000" stroke="none"/>
<rect x="3197.7" y="3005.4" width="34" height="4.3" fill="#000" stroke="none"/>
<path d="M2450 2892.9 L2750 2892.9"/>
<path d="M2770.6 2882.1 L2749 2892.9 L2770.6 2903.7Z"/>
<path d="M2749 2882.1 L2749 2903.7"/>
<path d="M2749 2882.1 L2753 2880.9 M2749 2903.7 L2745 2904.9"/>
<path d="M2770.8 2892.9 L2883.3 2892.9"/>
<text x="2524.5" y="2548.6" text-anchor="middle" transform="rotate(-90 2524.5 2541.2)">1ØØp/4ØØV</text>
<text x="2583.3" y="2549.4" text-anchor="middle" transform="rotate(-90 2583.3 2542)">C4Ø7</text>
<text x="2566.5" y="2564.9" text-anchor="middle" style="font-size:17px;stroke:none;" transform="rotate(-90 2566.5 2558.8)">F</text>
<text x="2610.8" y="2549.4" text-anchor="middle" transform="rotate(-90 2610.8 2542)">R4Ø5</text>
<text x="2661.8" y="2549.4" text-anchor="middle" transform="rotate(-90 2661.8 2542)">1k</text>
<text x="2689.2" y="2549.4" text-anchor="middle" transform="rotate(-90 2689.2 2542)">22u/16V</text>
<text x="2747.3" y="2549.4" text-anchor="middle" transform="rotate(-90 2747.3 2542)">C4Ø4</text>
<text x="2922.6" y="2776.9" text-anchor="middle" transform="rotate(-90 2922.6 2769.4)">R4Ø1</text>
<text x="2969.6" y="2776.9" text-anchor="middle" transform="rotate(-90 2969.6 2769.4)">15ØR</text>
<text x="3045.3" y="2776.9" text-anchor="middle" transform="rotate(-90 3045.3 2769.4)">R419</text>
<text x="3095.1" y="2776.9" text-anchor="middle" transform="rotate(-90 3095.1 2769.4)">4.7k</text>
<text x="2922.6" y="2900.8" text-anchor="middle" transform="rotate(-90 2922.6 2893.3)">D4ØØ</text>
<text x="2969.6" y="2900.8" text-anchor="middle" transform="rotate(-90 2969.6 2893.3)">ZY27</text>
<text x="3044.1" y="2900.8" text-anchor="middle" transform="rotate(-90 3044.1 2893.3)">C4Ø6</text>
<text x="3057.1" y="2881.3" text-anchor="middle" style="font-size:17px;stroke:none;" transform="rotate(-90 3057.1 2875.3)">F</text>
<text x="3099" y="2900.8" text-anchor="middle" transform="rotate(-90 3099 2893.3)">1ØØn</text>
<text x="2759.8" y="2872.2" text-anchor="middle">ZY47</text>
<text x="2759.8" y="2925.9" text-anchor="middle">D4Ø1</text>
<text x="3317.5" y="2689.8" text-anchor="middle">R415</text>
<text x="3317.5" y="2740.8" text-anchor="middle">2.2k</text>
<text x="3297.1" y="2896.9" text-anchor="middle">47ØR</text>
<text x="3297.1" y="2946.7" text-anchor="middle">R418</text>
<text x="3185.3" y="3005.5" text-anchor="middle" transform="rotate(-90 3185.3 2998)">C4Ø3</text>
<text x="3199" y="2984.5" text-anchor="middle" style="font-size:17px;stroke:none;" transform="rotate(-90 3199 2978.4)">F</text>
<text x="3242.2" y="3007.5" text-anchor="middle" transform="rotate(-90 3242.2 3000)">47Øp/4ØØV</text>
<path d="M2263.4 2292.5 L2263.4 2600"/>
<path d="M2821 2376.8 L2821 2400"/>
<path d="M3069.3 2376.8 L3069.3 2400"/>
<path d="M3194.1 2292.5 L3194.1 2400"/>
<path d="M3338.5 2706.9 L3462.4 2706.9 L3462.4 2748.7"/>
<circle cx="3379.7" cy="2706.9" r="3.6" fill="#000" stroke="none"/>
<path d="M3379.7 2706.9 L3379.7 2748.7"/>
<rect x="3369.2" y="2748.5" width="21" height="42"/>
<text x="3379.7" y="2775.5" text-anchor="middle" style="font-size:17px;stroke:none;" transform="rotate(-90 3379.7 2769.5)">A</text>
<path d="M3379.7 2789.9 L3379.7 2837.5"/>
<rect x="3368.2" y="2835.3" width="23" height="4.4" fill="#000" stroke="none"/>
<text x="3379.7" y="2859.9" text-anchor="middle">GND</text>
<rect x="3451.9" y="2748.5" width="21" height="42"/>
<text x="3462.4" y="2775.5" text-anchor="middle" style="font-size:17px;stroke:none;" transform="rotate(-90 3462.4 2769.5)">A</text>
<path d="M3462.4 2789.9 L3462.4 2837.5"/>
<rect x="3450.9" y="2835.3" width="23" height="4.4" fill="#000" stroke="none"/>
<text x="3462.4" y="2859.9" text-anchor="middle">GND</text>
<circle cx="3400.4" cy="2954.6" r="32.9" stroke-width="2.6"/>
<path d="M3412.6 2934.2 L3412.6 2975.3" stroke-width="4.2"/>
<path d="M3412.6 2954.6 L3524.6 2954.6"/>
<circle cx="3482.8" cy="2954.6" r="3.6" fill="#000" stroke="none"/>
<rect x="3524.3" y="2944.1" width="42" height="21"/>
<path d="M3565.8 2954.6 L3612.4 2954.6"/>
<path d="M3632.2 2949.2 L3612.2 2954.6 L3632.2 2960Z"/>
<text x="3649" y="2962.1" text-anchor="start">ADV13</text>
<path d="M3318.1 2913.7 L3379.7 2913.7 L3412.6 2938.7"/>
<path d="M3412.6 2970.8 L3379.7 2997.3 L3379.7 3085.1"/>
<path d="M3394.5 2985.4 L3401.4 2974.7 L3406.4 2980.9 Z"/>
<rect x="3368.2" y="3082.9" width="23" height="4.4" fill="#000" stroke="none"/>
<text x="3379.7" y="3107.6" text-anchor="middle">GND</text>
<path d="M3482.8 2954.6 L3482.8 2996.7"/>
<rect x="3472.3" y="2996.1" width="21" height="42"/>
<path d="M3482.8 3037.9 L3482.8 3085.1"/>
<rect x="3471.3" y="3082.9" width="23" height="4.4" fill="#000" stroke="none"/>
<text x="3482.8" y="3107.6" text-anchor="middle">GND</text>
<rect x="3203.2" y="3082.9" width="23" height="4.4" fill="#000" stroke="none"/>
<text x="3214.7" y="3107.6" text-anchor="middle">GND</text>
<path d="M3214.7 3000 L3214.7 3085.1"/>
<text x="3355.6" y="2776.9" text-anchor="middle" transform="rotate(-90 3355.6 2769.5)">R4Ø8</text>
<text x="3405" y="2776.9" text-anchor="middle" transform="rotate(-90 3405 2769.5)">46.4k/1%</text>
<text x="3438" y="2776.9" text-anchor="middle" transform="rotate(-90 3438 2769.5)">R4Ø7</text>
<text x="3487.4" y="2775.4" text-anchor="middle" transform="rotate(-90 3487.4 2767.9)">1.78k/1%</text>
<text x="3332.4" y="2982.8" text-anchor="middle">T4Ø1</text>
<text x="3319.6" y="3004.8" text-anchor="middle">BC546B</text>
<text x="3543.8" y="2938.6" text-anchor="middle">22k</text>
<text x="3543.8" y="2988.3" text-anchor="middle">R421</text>
<text x="3458.4" y="3024.6" text-anchor="middle" transform="rotate(-90 3458.4 3017.1)">R42Ø</text>
<text x="3508.1" y="3024.6" text-anchor="middle" transform="rotate(-90 3508.1 3017.1)">1Øk</text>
<path d="M2564 2966 L2823 2966 L2823 3141.6 L2564 3141.6 L2564 2966" stroke-width="1.9"/>
<path d="M2589 2987 L2589 3108.8"/>
<path d="M2589 2987 L2718.6 2987 L2740.2 3007"/>
<path d="M2740.2 2996.6 L2740.2 3039"/>
<path d="M2740.2 3017.7 L2800.2 3017.7"/>
<path d="M2740.2 3028.6 L2719.6 3048.4 L2719.6 3108.8"/>
<path d="M2724.8 3043.4 L2729.4 3033.1 L2735.2 3039.2 Z"/>
<path d="M2637.1 2987 L2637.1 3026.6 L2657.5 3045.8"/>
<path d="M2657.5 3036.4 L2657.5 3078.3"/>
<path d="M2657.5 3057 L2719.6 3057"/>
<path d="M2657.5 3068.3 L2637.1 3088.1 L2637.1 3108.8"/>
<path d="M2642.2 3083.2 L2646.8 3072.8 L2652.7 3078.9 Z"/>
<path d="M2574.6 3046.7 L2604 3046.7"/>
<path d="M2574.6 3067.4 L2604 3067.4 L2589.3 3046.7Z"/>
<path d="M2589 3108.8 L2653.2 3108.8"/>
<path d="M2701.1 3108.8 L2735.9 3108.8"/>
<path d="M2783.8 3108.8 L2800.2 3108.8"/>
<path d="M2653.2 3100.5 L2701.1 3100.5 L2701.1 3117 L2653.2 3117 L2653.2 3100.5"/>
<path d="M2735.9 3100.5 L2783.8 3100.5 L2783.8 3117 L2735.9 3117 L2735.9 3100.5"/>
<path d="M2800.2 3017.7 L2800.2 3108.8"/>
<circle cx="2637.1" cy="2987" r="3.6" fill="#000" stroke="none"/>
<circle cx="2637.1" cy="3108.8" r="3.6" fill="#000" stroke="none"/>
<circle cx="2719.6" cy="3057" r="3.6" fill="#000" stroke="none"/>
<circle cx="2719.6" cy="3108.8" r="3.6" fill="#000" stroke="none"/>
<circle cx="2800.2" cy="3017.7" r="3.6" fill="#000" stroke="none"/>
<path d="M2532.3 2934.9 L2852.6 2934.9 L2852.6 3171.8 L2532.3 3171.8 L2532.3 2934.9" stroke-dasharray="16.9 16.2"/>
<path d="M2532.3 2934.9 L2548.3 2950.9"/>
<path d="M2852.6 2934.9 L2836.6 2950.9"/>
<path d="M2564 3141.6 L2548 3157.6"/>
<path d="M2822 3141.6 L2838 3157.6"/>
<path d="M2700.9 2934.9 L2714.9 2934.9"/>
<path d="M2707.9 2934.9 L2707.9 2950.9"/>
<path d="M2707.9 3141.6 L2707.9 3157.6"/>
<path d="M2548 3048.8 L2564 3048.8"/>
<path d="M2836.6 3048.8 L2852.6 3048.8"/>
<path d="M2852.6 3046.8 L2852.6 3061.8"/>
<path d="M2635.9 2880 L2635.9 2986.2"/>
<path d="M2635.9 3108.1 L2635.9 3313"/>
<rect x="2624.4" y="3310.8" width="23" height="4.4" fill="#000" stroke="none"/>
<text x="2635.9" y="3335.5" text-anchor="middle">GND</text>
<circle cx="2635.9" cy="2893.1" r="3.6" fill="#000" stroke="none"/>
<path d="M2821.8 3017.3 L2884.3 3017.3"/>
<path d="M2884.3 2893.1 L2884.3 3017.3"/>
<circle cx="2904.2" cy="3244.4" r="32.7" stroke-width="2.6"/>
<path d="M2917.3 3223.1 L2917.3 3265.6" stroke-width="4.2"/>
<path d="M2917.3 3244.4 L3132 3244.4 L3132 2880"/>
<path d="M2917.3 3229.7 L2884.3 3203.5 L2480 3203.5"/>
<path d="M2917.3 3259.1 L2884.3 3285.2 L2884.3 3313"/>
<path d="M2898.4 3274 L2905.4 3263.4 L2910.3 3269.7 Z"/>
<rect x="2872.8" y="3310.8" width="23" height="4.4" fill="#000" stroke="none"/>
<text x="2884.3" y="3335.5" text-anchor="middle">GND</text>
<text x="2904.2" y="3169.5" text-anchor="middle">T4Ø5</text>
<text x="2904.2" y="3190.4" text-anchor="middle">BC639</text>
<path d="M2036.6 3017.4 L2119.5 3017.4"/>
<path d="M2201.8 3017.4 L2388 3017.4"/>
<circle cx="2036.6" cy="3017.4" r="3.6" fill="#000" stroke="none"/>
<circle cx="2222.2" cy="3017.4" r="3.6" fill="#000" stroke="none"/>
<circle cx="2326" cy="3017.4" r="3.6" fill="#000" stroke="none"/>
<circle cx="2388" cy="3017.4" r="3.6" fill="#000" stroke="none"/>
<circle cx="2160" cy="3037.5" r="62" stroke-width="1.3"/>
<path d="M2206 3037.5 L2222 3037.5" stroke-width="1.3"/>
<path d="M2192.5 3070 L2203.8 3081.4" stroke-width="1.3"/>
<path d="M2127.5 3070 L2116.2 3081.4" stroke-width="1.3"/>
<path d="M2114 3037.5 L2098 3037.5" stroke-width="1.3"/>
<path d="M2127.5 3005 L2116.2 2993.7" stroke-width="1.3"/>
<path d="M2160 2991.5 L2160 2975.5" stroke-width="1.3"/>
<path d="M2192.5 3005 L2203.8 2993.7" stroke-width="1.3"/>
<circle cx="2160" cy="3037.5" r="33.5" stroke-width="2.6"/>
<path d="M2139.9 3050.1 L2181.7 3050.1" stroke-width="4.2"/>
<path d="M2144.3 3048 L2119.5 3017.4"/>
<path d="M2130.7 3031.2 L2140.5 3036.7 L2134 3041.9 Z"/>
<path d="M2174.4 3048 L2201.8 3017.4"/>
<path d="M2160 3050.1 L2160 3120.7"/>
<circle cx="2160" cy="3120.7" r="3.6" fill="#000" stroke="none"/>
<path d="M2036.6 3017.4 L2036.6 3120.7 L2077.6 3120.7"/>
<rect x="2077.6" y="3110.2" width="42" height="21"/>
<path d="M2119.5 3120.7 L2243.1 3120.7"/>
<path d="M2243.1 3120.7 L2271.1 3152.6"/>
<circle cx="2284.2" cy="3140.8" r="33.5" stroke-width="2.6"/>
<path d="M2263.3 3153.9 L2305.6 3153.9" stroke-width="4.2"/>
<path d="M2298.6 3152.6 L2326 3120.7 L2326 3017.4"/>
<path d="M2304.1 3146.2 L2307.7 3135.5 L2314.1 3141 Z"/>
<path d="M2284.2 3153.9 L2284.2 3203 L2428.8 3203"/>
<rect x="2428.4" y="3192.5" width="42" height="21"/>
<path d="M2470.3 3203 L2560 3203"/>
<circle cx="2388" cy="3203" r="3.6" fill="#000" stroke="none"/>
<path d="M2388 3017.4 L2388 3120.7"/>
<rect x="2377.5" y="3120.3" width="21" height="42"/>
<path d="M2388 3161.7 L2388 3203"/>
<text x="2263.3" y="3056" text-anchor="middle">T4Ø4</text>
<text x="2263.3" y="3076.3" text-anchor="middle">RBDT93</text>
<text x="2097.3" y="3103.8" text-anchor="middle">R411</text>
<text x="2098.6" y="3153.5" text-anchor="middle">1K</text>
<text x="2222.7" y="3190.9" text-anchor="middle">T4Ø3</text>
<text x="2222.7" y="3211" text-anchor="middle">BC64Ø</text>
<text x="2362.6" y="3148.8" text-anchor="middle" transform="rotate(-90 2362.6 3141.3)">R41Ø</text>
<text x="2412.8" y="3148.8" text-anchor="middle" transform="rotate(-90 2412.8 3141.3)">2.2k</text>
<text x="2449.4" y="3186.1" text-anchor="middle">R413</text>
<text x="2449.4" y="3236.3" text-anchor="middle">432R/1W/1%</text>
<text x="2480.3" y="3056" text-anchor="middle">T4Ø2</text>
<text x="2480.3" y="3076.3" text-anchor="middle">RBDT65A</text>
<path d="M2222.4 2600 L2222.4 2707.2 L2304.7 2707.2"/>
<rect x="2304.4" y="2696.7" width="42" height="21"/>
<path d="M2346.3 2707.2 L2500 2707.2"/>
<path d="M2263.4 2600 L2263.4 2893.3 L2304.7 2893.3"/>
<rect x="2304.4" y="2882.8" width="42" height="21"/>
<path d="M2346.3 2893.3 L2500 2893.3"/>
<circle cx="2387.6" cy="2893.3" r="3.6" fill="#000" stroke="none"/>
<path d="M2387.6 2893.3 L2387.6 3017.5"/>
<path d="M2376.8 2944.8 L2387.6 2966.4 L2398.4 2944.8Z"/>
<path d="M2376.8 2966.4 L2398.4 2966.4"/>
<path d="M2374.5 2913.7 L2367.2 2913.7 L2367.2 2928.1"/>
<path d="M2400.7 2913.7 L2408 2913.7 L2408 2928.1"/>
<path d="M2367.2 2947.7 L2367.2 2963.4"/>
<path d="M2408 2947.7 L2408 2963.4"/>
<path d="M2367.2 2981.7 L2367.2 2996.6 L2374.5 2996.6"/>
<path d="M2408 2981.7 L2408 2996.6 L2400.7 2996.6"/>
<path d="M2030.5 2785.6 L2035.9 2805.2 L2041.3 2785.6Z"/>
<text x="2035.9" y="2777.4" text-anchor="middle">+12V-A</text>
<path d="M2035.9 2805.2 L2035.9 3024.6"/>
<circle cx="2035.9" cy="2934.6" r="3.6" fill="#000" stroke="none"/>
<circle cx="2035.9" cy="3017.5" r="3.6" fill="#000" stroke="none"/>
<path d="M2035.9 2934.6 L2149.7 2934.6"/>
<path d="M2149.3 2923.8 L2170.9 2934.6 L2149.3 2945.4Z"/>
<path d="M2170.9 2923.8 L2170.9 2945.4"/>
<path d="M2170.6 2934.6 L2222.4 2934.6 L2222.4 3017.5"/>
<circle cx="2387.6" cy="3017.5" r="3.6" fill="#000" stroke="none"/>
<text x="2160.1" y="2917.3" text-anchor="middle">D4Ø6</text>
<text x="2160.1" y="2966.9" text-anchor="middle">1N4ØØ2</text>
<text x="2325.4" y="2689.8" text-anchor="middle">R786</text>
<text x="2325.4" y="2739.5" text-anchor="middle">ØR</text>
<text x="2325.4" y="2875.4" text-anchor="middle">R1Ø/&gt;1W</text>
<text x="2325.4" y="2925.9" text-anchor="middle">R4Ø9</text>
<text x="2346.5" y="2964.3" text-anchor="middle" transform="rotate(-90 2346.5 2956.9)">D1</text>
<text x="2429.4" y="2963" text-anchor="middle" transform="rotate(-90 2429.4 2955.6)">OF622</text>
<text x="4743.6" y="131.6" text-anchor="middle">V1.34</text>
<path d="M4743.6 144.6 L4764.4 165.4 L4743.6 186.2 L4722.8 165.4Z"/>
<path d="M4739.1 160.9 L4748.1 169.9 M4739.1 169.9 L4748.1 160.9"/>
<text x="4743.6" y="214.2" text-anchor="middle">V1.33</text>
<path d="M4743.6 227.2 L4764.4 248 L4743.6 268.8 L4722.8 248Z"/>
<path d="M4739.1 243.5 L4748.1 252.5 M4739.1 252.5 L4748.1 243.5"/>
<text x="4743.6" y="296.8" text-anchor="middle">V1.32</text>
<path d="M4743.6 309.8 L4764.4 330.6 L4743.6 351.4 L4722.8 330.6Z"/>
<path d="M4739.1 326.1 L4748.1 335.1 M4739.1 335.1 L4748.1 326.1"/>
<text x="4743.6" y="379.4" text-anchor="middle">V1.31</text>
<path d="M4743.6 392.5 L4764.4 413.3 L4743.6 434.1 L4722.8 413.3Z"/>
<path d="M4739.1 408.8 L4748.1 417.8 M4739.1 417.8 L4748.1 408.8"/>
<text x="4743.6" y="462" text-anchor="middle">V1.3Ø</text>
<path d="M4743.6 475.1 L4764.4 495.9 L4743.6 516.7 L4722.8 495.9Z"/>
<path d="M4532.7 490.5 L4553.7 495.9 L4532.7 501.3Z"/>
<path d="M4553.7 495.9 L4743.6 495.9"/>
<text x="4515.7" y="503.3" text-anchor="end">ADV3Ø</text>
<text x="4743.6" y="544.7" text-anchor="middle">V1.29</text>
<path d="M4743.6 557.7 L4764.4 578.5 L4743.6 599.3 L4722.8 578.5Z"/>
<path d="M4532.7 573.1 L4553.7 578.5 L4532.7 583.9Z"/>
<path d="M4553.7 578.5 L4743.6 578.5"/>
<text x="4515.7" y="586" text-anchor="end">ADV29</text>
<text x="4743.6" y="627.3" text-anchor="middle">V1.28</text>
<path d="M4743.6 640.3 L4764.4 661.1 L4743.6 681.9 L4722.8 661.1Z"/>
<path d="M4532.7 655.7 L4553.7 661.1 L4532.7 666.5Z"/>
<path d="M4553.7 661.1 L4743.6 661.1"/>
<text x="4515.7" y="668.6" text-anchor="end">ADV28</text>
<text x="4743.6" y="709.9" text-anchor="middle">V1.27</text>
<path d="M4743.6 722.9 L4764.4 743.7 L4743.6 764.5 L4722.8 743.7Z"/>
<path d="M4532.7 738.3 L4553.7 743.7 L4532.7 749.1Z"/>
<path d="M4553.7 743.7 L4743.6 743.7"/>
<text x="4515.7" y="751.2" text-anchor="end">ADV27</text>
<text x="4743.6" y="792.5" text-anchor="middle">V1.26</text>
<path d="M4743.6 805.6 L4764.4 826.4 L4743.6 847.2 L4722.8 826.4Z"/>
<text x="4743.6" y="875.1" text-anchor="middle">V1.25</text>
<path d="M4743.6 888.2 L4764.4 909 L4743.6 929.8 L4722.8 909Z"/>
<text x="4743.6" y="957.8" text-anchor="middle">V1.24</text>
<path d="M4743.6 970.8 L4764.4 991.6 L4743.6 1012.4 L4722.8 991.6Z"/>
<path d="M4532.7 986.2 L4553.7 991.6 L4532.7 997Z"/>
<path d="M4553.7 991.6 L4743.6 991.6"/>
<text x="4515.7" y="999.1" text-anchor="end">ADV24</text>
<text x="4743.6" y="1040.4" text-anchor="middle">V1.23</text>
<path d="M4743.6 1053.4 L4764.4 1074.2 L4743.6 1095 L4722.8 1074.2Z"/>
<path d="M4532.7 1068.8 L4553.7 1074.2 L4532.7 1079.6Z"/>
<path d="M4553.7 1074.2 L4743.6 1074.2"/>
<text x="4515.7" y="1081.7" text-anchor="end">ADV23</text>
<text x="4743.6" y="1123" text-anchor="middle">V1.22</text>
<path d="M4743.6 1136 L4764.4 1156.8 L4743.6 1177.6 L4722.8 1156.8Z"/>
<path d="M4553.7 1151.4 L4532.7 1156.8 L4553.7 1162.2Z"/>
<path d="M4553.7 1156.8 L4743.6 1156.8"/>
<text x="4515.7" y="1164.3" text-anchor="end">ADV22</text>
<text x="4743.6" y="1205.6" text-anchor="middle">V1.21</text>
<path d="M4743.6 1218.7 L4764.4 1239.5 L4743.6 1260.3 L4722.8 1239.5Z"/>
<path d="M4532.7 1234.1 L4553.7 1239.5 L4532.7 1244.9Z"/>
<path d="M4553.7 1239.5 L4743.6 1239.5"/>
<text x="4515.7" y="1246.9" text-anchor="end">ADV21</text>
<text x="4743.6" y="1288.2" text-anchor="middle">V1.2Ø</text>
<path d="M4743.6 1301.3 L4764.4 1322.1 L4743.6 1342.9 L4722.8 1322.1Z"/>
<path d="M4739.1 1317.6 L4748.1 1326.6 M4739.1 1326.6 L4748.1 1317.6"/>
<text x="4743.6" y="1370.9" text-anchor="middle">V1.19</text>
<path d="M4743.6 1383.9 L4764.4 1404.7 L4743.6 1425.5 L4722.8 1404.7Z"/>
<path d="M4532.7 1399.3 L4553.7 1404.7 L4532.7 1410.1Z"/>
<path d="M4553.7 1404.7 L4743.6 1404.7"/>
<text x="4515.7" y="1412.2" text-anchor="end">ADV19</text>
<text x="4743.6" y="1453.5" text-anchor="middle">V1.18</text>
<path d="M4743.6 1466.5 L4764.4 1487.3 L4743.6 1508.1 L4722.8 1487.3Z"/>
<path d="M4558.4 1487.3 L4743.6 1487.3"/>
<text x="4515.7" y="1494.8" text-anchor="end">ADV18</text>
<text x="4743.6" y="1536.1" text-anchor="middle">V1.17</text>
<path d="M4743.6 1549.1 L4764.4 1569.9 L4743.6 1590.7 L4722.8 1569.9Z"/>
<path d="M4553.7 1564.5 L4532.7 1569.9 L4553.7 1575.3Z"/>
<path d="M4553.7 1569.9 L4743.6 1569.9"/>
<text x="4515.7" y="1577.4" text-anchor="end">ADV17</text>
<text x="4743.6" y="1618.7" text-anchor="middle">V1.16</text>
<path d="M4743.6 1631.8 L4764.4 1652.6 L4743.6 1673.4 L4722.8 1652.6Z"/>
<text x="4743.6" y="1701.3" text-anchor="middle">V1.15</text>
<path d="M4743.6 1714.4 L4764.4 1735.2 L4743.6 1756 L4722.8 1735.2Z"/>
<path d="M4553.7 1729.8 L4532.7 1735.2 L4553.7 1740.6Z"/>
<path d="M4553.7 1735.2 L4743.6 1735.2"/>
<text x="4515.7" y="1742.6" text-anchor="end">ADV15</text>
<text x="4743.6" y="1784" text-anchor="middle">V1.14</text>
<path d="M4743.6 1797 L4764.4 1817.8 L4743.6 1838.6 L4722.8 1817.8Z"/>
<path d="M4532.7 1812.4 L4553.7 1817.8 L4532.7 1823.2Z"/>
<path d="M4553.7 1817.8 L4743.6 1817.8"/>
<text x="4515.7" y="1825.3" text-anchor="end">ADV14</text>
<text x="4743.6" y="1866.6" text-anchor="middle">V1.13</text>
<path d="M4743.6 1879.6 L4764.4 1900.4 L4743.6 1921.2 L4722.8 1900.4Z"/>
<path d="M4553.7 1895 L4532.7 1900.4 L4553.7 1905.8Z"/>
<path d="M4553.7 1900.4 L4743.6 1900.4"/>
<text x="4515.7" y="1907.9" text-anchor="end">ADV13</text>
<text x="4743.6" y="1949.2" text-anchor="middle">V1.12</text>
<path d="M4743.6 1962.2 L4764.4 1983 L4743.6 2003.8 L4722.8 1983Z"/>
<path d="M4532.7 1977.6 L4553.7 1983 L4532.7 1988.4Z"/>
<path d="M4553.7 1983 L4743.6 1983"/>
<text x="4515.7" y="1990.5" text-anchor="end">ADV12</text>
<text x="4743.6" y="2031.8" text-anchor="middle">V1.11</text>
<path d="M4743.6 2044.9 L4764.4 2065.7 L4743.6 2086.5 L4722.8 2065.7Z"/>
<path d="M4553.7 2060.3 L4532.7 2065.7 L4553.7 2071.1Z"/>
<path d="M4553.7 2065.7 L4743.6 2065.7"/>
<text x="4515.7" y="2073.1" text-anchor="end">ADV11</text>
<text x="4743.6" y="2114.4" text-anchor="middle">V1.1Ø</text>
<path d="M4743.6 2127.5 L4764.4 2148.3 L4743.6 2169.1 L4722.8 2148.3Z"/>
<text x="4743.6" y="2197.1" text-anchor="middle">V1.9</text>
<path d="M4743.6 2210.1 L4764.4 2230.9 L4743.6 2251.7 L4722.8 2230.9Z"/>
<text x="4743.6" y="2279.7" text-anchor="middle">V1.8</text>
<path d="M4743.6 2292.7 L4764.4 2313.5 L4743.6 2334.3 L4722.8 2313.5Z"/>
<path d="M4739.1 2309 L4748.1 2318 M4739.1 2318 L4748.1 2309"/>
<text x="4743.6" y="2362.3" text-anchor="middle">V1.7</text>
<path d="M4743.6 2375.3 L4764.4 2396.1 L4743.6 2416.9 L4722.8 2396.1Z"/>
<path d="M4553.7 2390.7 L4532.7 2396.1 L4553.7 2401.5Z"/>
<path d="M4553.7 2396.1 L4743.6 2396.1"/>
<text x="4515.7" y="2403.6" text-anchor="end">ADV7</text>
<text x="4743.6" y="2444.9" text-anchor="middle">V1.6</text>
<path d="M4743.6 2458 L4764.4 2478.8 L4743.6 2499.6 L4722.8 2478.8Z"/>
<path d="M4532.7 2473.4 L4553.7 2478.8 L4532.7 2484.2Z"/>
<path d="M4553.7 2478.8 L4743.6 2478.8"/>
<text x="4515.7" y="2486.2" text-anchor="end">+5V</text>
<text x="4743.6" y="2527.5" text-anchor="middle">V1.5</text>
<path d="M4743.6 2540.6 L4764.4 2561.4 L4743.6 2582.2 L4722.8 2561.4Z"/>
<text x="4743.6" y="2610.2" text-anchor="middle">V1.4</text>
<path d="M4743.6 2623.2 L4764.4 2644 L4743.6 2664.8 L4722.8 2644Z"/>
<path d="M4553.7 2638.6 L4532.7 2644 L4553.7 2649.4Z"/>
<path d="M4553.7 2644 L4743.6 2644"/>
<text x="4515.7" y="2651.5" text-anchor="end">ADV4</text>
<text x="4743.6" y="2692.8" text-anchor="middle">V1.3</text>
<path d="M4743.6 2705.8 L4764.4 2726.6 L4743.6 2747.4 L4722.8 2726.6Z"/>
<path d="M4532.7 2721.2 L4553.7 2726.6 L4532.7 2732Z"/>
<path d="M4553.7 2726.6 L4743.6 2726.6"/>
<text x="4515.7" y="2734.1" text-anchor="end">ADV3</text>
<text x="4743.6" y="2775.4" text-anchor="middle">V1.2</text>
<path d="M4743.6 2788.4 L4764.4 2809.2 L4743.6 2830 L4722.8 2809.2Z"/>
<path d="M4553.7 2803.8 L4532.7 2809.2 L4553.7 2814.6Z"/>
<path d="M4553.7 2809.2 L4743.6 2809.2"/>
<text x="4515.7" y="2816.7" text-anchor="end">ADV2</text>
<text x="4743.6" y="2858" text-anchor="middle">V1.1</text>
<path d="M4743.6 2871.1 L4764.4 2891.9 L4743.6 2912.7 L4722.8 2891.9Z"/>
<path d="M4532.7 2886.5 L4553.7 2891.9 L4532.7 2897.3Z"/>
<path d="M4553.7 2891.9 L4743.6 2891.9"/>
<text x="4515.7" y="2899.3" text-anchor="end">ADV1</text>
<path d="M4743.6 826.4 L4599 826.4 L4599 2561.4 L4743.6 2561.4"/>
<circle cx="4599" cy="2478.8" r="3.6" fill="#000" stroke="none"/>
<path d="M4743.6 909 L4640.1 909 L4640.1 2961.4"/>
<rect x="4628.6" y="2959.2" width="23" height="4.4" fill="#000" stroke="none"/>
<text x="4640.1" y="2983.9" text-anchor="middle">GND</text>
<path d="M4640.1 2148.3 L4743.6 2148.3"/>
<circle cx="4640.1" cy="2148.3" r="3.6" fill="#000" stroke="none"/>
<path d="M4640.1 2230.9 L4743.6 2230.9"/>
<circle cx="4640.1" cy="2230.9" r="3.6" fill="#000" stroke="none"/>
<path d="M3916.7 3058.2 L4743.6 3058.2 L4743.6 2915" stroke-dasharray="16.9 16.2"/>
<path d="M4304.4 1462.9 L4309.8 1482.1 L4315.2 1462.9Z"/>
<text x="4309.8" y="1454.5" text-anchor="middle">+12V</text>
<path d="M4309.8 1482.2 L4309.8 1549.9"/>
<circle cx="4309.8" cy="1508.1" r="3.6" fill="#000" stroke="none"/>
<rect x="4299.3" y="1549.6" width="21" height="42"/>
<path d="M4309.8 1591.3 L4309.8 1653 L4392.2 1653"/>
<path d="M4309.8 1508.1 L4392.2 1508.1 L4392.2 1549.9"/>
<rect x="4381.7" y="1549.6" width="21" height="42"/>
<text x="4392.2" y="1576.6" text-anchor="middle" style="font-size:17px;stroke:none;" transform="rotate(-90 4392.2 1570.6)">A</text>
<path d="M4392.2 1591.3 L4392.2 1653"/>
<path d="M4392.2 1652.6 L4743.6 1652.6"/>
<circle cx="4392.2" cy="1653" r="3.6" fill="#000" stroke="none"/>
<text x="4285.4" y="1578.1" text-anchor="middle" transform="rotate(-90 4285.4 1570.6)">R6Ø2</text>
<text x="4334.2" y="1578.1" text-anchor="middle" transform="rotate(-90 4334.2 1570.6)">39k</text>
<text x="4367.8" y="1578.1" text-anchor="middle" transform="rotate(-90 4367.8 1570.6)">R6Ø3</text>
<text x="4418.1" y="1578.1" text-anchor="middle" transform="rotate(-90 4418.1 1570.6)">3.61k/1%</text>
<text x="4807" y="1582.8" text-anchor="middle" style="font-size:30.5px;stroke-width:1;" transform="rotate(-90 4807 1572)">from..to Digital Part</text>
<path d="M3912.4 2485.9 L3921.4 2494.9 M3912.4 2494.9 L3921.4 2485.9"/>
<path d="M3916.9 2490.4 L3937.5 2490.4"/>
<path d="M3937.5 2479.2 L3979.4 2479.2 L3979.4 2501.2 L3937.5 2501.2 L3937.5 2479.2"/>
<text x="3958.4" y="2496.4" text-anchor="middle" style="font-size:17px;stroke:none;">A</text>
<path d="M3979.4 2490.4 L3999.6 2490.4"/>
<path d="M3995.1 2485.9 L4004.1 2494.9 M3995.1 2494.9 L4004.1 2485.9"/>
<text x="4027.1" y="2497.8" text-anchor="middle">=</text>
<text x="4047.1" y="2497.8" text-anchor="start">Abgleichwiderstand</text>
<text x="4050.6" y="2528.8" text-anchor="start">(Equalize Resistor)</text>
<path d="M4195.3 3101.2 L4856.3 3101.2 L4856.3 3432.1 L4195.3 3432.1 L4195.3 3101.2" stroke-width="1.9"/>
<path d="M4276.5 3101.2 L4276.5 3224.6" stroke-width="1.8"/>
<path d="M4402.8 3101.2 L4402.8 3224.6" stroke-width="1.8"/>
<path d="M4195.3 3142.7 L4402.8 3142.7" stroke-width="1.8"/>
<path d="M4195.3 3185.3 L4402.8 3185.3" stroke-width="1.8"/>
<path d="M4195.3 3224.6 L4856.3 3224.6" stroke-width="1.8"/>
<path d="M4195.3 3391 L4856.3 3391" stroke-width="1.8"/>
<path d="M4582 3391 L4582 3399.5"/>
<text x="4235.5" y="3129.3" text-anchor="middle" style="font-size:20px;">GEZ</text>
<text x="4340.4" y="3128.1" text-anchor="middle" style="font-size:20px;">LW</text>
<text x="4235.5" y="3170.4" text-anchor="middle" style="font-size:20px;">DAT</text>
<text x="4341" y="3169.1" text-anchor="middle" style="font-size:20px;">11.11.Ø3</text>
<text x="4237" y="3211.1" text-anchor="middle" style="font-size:20px;">GEPR</text>
<text x="4610.3" y="3185.6" text-anchor="middle" style="font-size:66px;stroke-width:3.2;" letter-spacing="3">BOSCH</text>
<text x="4208.4" y="3269.5" text-anchor="start" style="font-size:41px;stroke-width:1.6;">TYP 911-MWS-Ø2 (1987)</text>
<text x="4208.4" y="3307.5" text-anchor="start" style="font-size:30.3px;stroke-width:1;">Bosch #   : Ø 261 2ØØ Ø85</text>
<text x="4208.4" y="3339.3" text-anchor="start" style="font-size:30.3px;stroke-width:1;">Porsche # : 911.618.111</text>
<text x="4202.8" y="3376.5" text-anchor="start" style="font-size:21.5px;">Filename: ML31AN.SCH</text>
<text x="4209.5" y="3419.2" text-anchor="start" style="font-size:20.5px;">UNIT: MOTRONIC (Analog Part)</text>
<text x="4618.5" y="3419.2" text-anchor="start" style="font-size:20.5px;">Page 1</text>
</g>
</svg>
</body></html>
